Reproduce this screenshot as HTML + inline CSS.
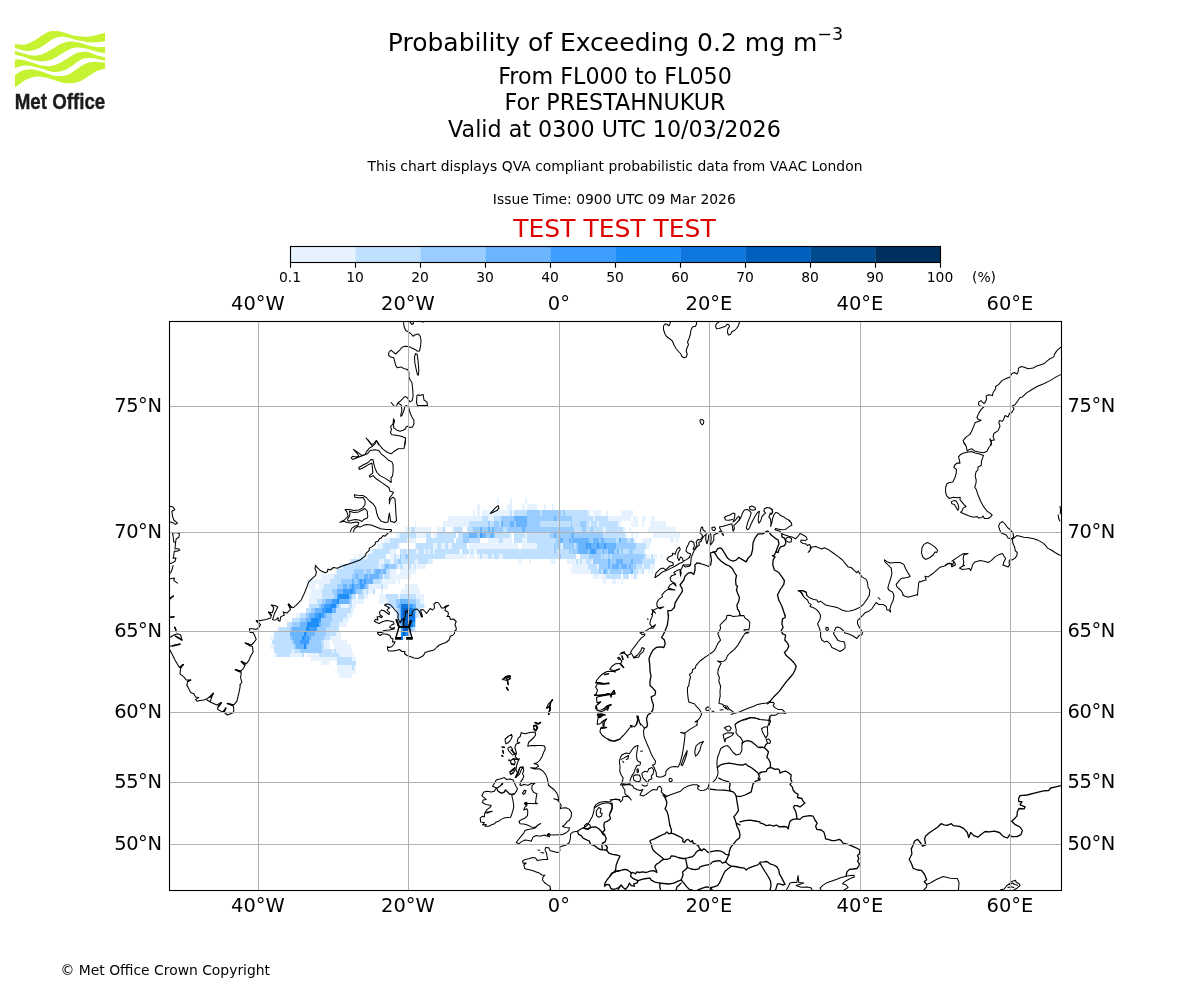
<!DOCTYPE html>
<html lang="en">
<head>
<meta charset="utf-8">
<title>Probability of Exceeding 0.2 mg m-3</title>
<style>
html,body{margin:0;padding:0;background:#fff;}
body{width:1200px;height:1000px;overflow:hidden;font-family:"DejaVu Sans","Liberation Sans",sans-serif;}
svg{display:block;}
text{font-family:"DejaVu Sans","Liberation Sans",sans-serif;fill:#000;}
.s10{font-size:13.89px;}
.s14{font-size:19.44px;}
.s16{font-size:22.22px;}
.s18{font-size:25px;}
.grid line{stroke:#b0b0b0;stroke-width:1;}
.coast path{fill:none;stroke:#000;stroke-width:1.05;stroke-linejoin:round;stroke-linecap:round;}
.coast path.b{stroke-width:1.3;}
.coast path.k{stroke-width:1.5;}
</style>
</head>
<body>
<svg width="1200" height="1000" viewBox="0 0 1200 1000">
<rect width="1200" height="1000" fill="#fff"/>
<g id="logo"><path d="M14.9,44.3C16.7,44.3 22.0,45.1 25.2,44.5C28.5,43.9 30.9,42.6 34.4,40.6C38.0,38.7 43.0,34.4 46.4,32.8C49.8,31.2 51.8,31.1 54.7,31.0C57.6,30.9 60.7,31.6 63.9,32.4C67.1,33.1 70.3,34.8 74.0,35.6C77.7,36.3 82.1,36.9 86.0,36.8C89.8,36.7 93.8,35.6 97.0,34.9C100.2,34.3 103.7,33.2 105.1,32.8L105.1,41.6C103.0,41.7 96.8,42.6 92.4,42.5C88.0,42.3 82.4,41.4 78.6,40.6C74.8,39.9 72.2,38.5 69.4,37.9C66.6,37.2 64.5,36.7 62.0,36.8C59.6,36.9 57.3,37.2 54.7,38.3C52.1,39.4 49.3,41.6 46.4,43.4C43.5,45.2 40.3,47.7 37.2,48.9C34.1,50.2 30.8,50.8 28.0,50.9C25.2,51.1 22.8,50.3 20.6,49.8C18.5,49.3 15.9,48.3 14.9,48.0ZM14.9,50.8C16.3,51.2 20.5,52.8 23.4,53.5C26.3,54.3 29.5,55.2 32.6,55.4C35.7,55.5 38.7,55.4 41.8,54.4C44.9,53.5 47.9,51.5 51.0,49.8C54.1,48.2 57.1,45.7 60.2,44.3C63.3,42.9 66.3,41.9 69.4,41.6C72.5,41.3 75.5,41.9 78.6,42.5C81.7,43.1 84.7,44.5 87.8,45.2C90.9,46.0 94.1,46.8 97.0,47.1C99.9,47.4 103.7,47.1 105.1,47.1L105.1,53.1C103.7,52.8 99.9,52.4 97.0,51.7C94.1,51.0 90.9,49.6 87.8,48.9C84.7,48.2 81.4,47.6 78.6,47.5C75.8,47.5 74.0,47.5 71.2,48.5C68.5,49.5 65.1,51.8 62.0,53.5C59.0,55.3 55.9,57.7 52.8,59.0C49.8,60.3 47.0,61.2 43.6,61.3C40.3,61.5 36.0,60.7 32.6,60.0C29.2,59.2 26.3,57.7 23.4,56.7C20.5,55.8 16.3,54.8 14.9,54.4ZM14.9,59.5C16.3,59.6 20.5,59.4 23.4,60.0C26.3,60.5 29.5,61.8 32.6,62.7C35.7,63.6 38.7,64.9 41.8,65.5C44.9,66.0 47.9,66.4 51.0,65.9C54.1,65.5 57.1,64.2 60.2,62.7C63.3,61.3 66.3,58.9 69.4,57.2C72.5,55.5 75.5,53.4 78.6,52.6C81.7,51.8 84.7,51.7 87.8,52.1C90.9,52.6 94.1,54.5 97.0,55.4C99.9,56.2 103.7,56.9 105.1,57.2L105.1,60.9C103.7,60.6 99.9,59.5 97.0,59.0C94.1,58.6 90.6,58.0 87.8,58.1C85.0,58.3 83.2,58.6 80.4,60.0C77.7,61.3 74.3,64.6 71.2,66.4C68.2,68.2 65.1,70.1 62.0,71.0C59.0,71.9 55.9,72.2 52.8,71.9C49.8,71.6 47.0,70.1 43.6,69.2C40.3,68.2 36.0,67.0 32.6,66.4C29.2,65.8 26.3,65.2 23.4,65.5C20.5,65.8 16.3,67.8 14.9,68.2ZM14.9,75.1C16.0,74.4 18.9,72.0 21.6,71.0C24.2,70.0 27.7,69.2 30.8,69.2C33.8,69.2 36.9,70.2 40.0,71.0C43.0,71.8 46.1,73.4 49.2,74.2C52.2,75.1 55.3,76.0 58.4,76.1C61.4,76.1 64.5,75.8 67.6,74.7C70.6,73.5 73.7,71.0 76.8,69.2C79.8,67.3 82.9,64.9 86.0,63.6C89.0,62.4 92.0,62.0 95.2,61.8C98.3,61.6 103.4,62.6 105.1,62.7L105.1,68.7C103.7,69.1 99.6,69.8 97.0,71.0C94.4,72.1 92.2,74.0 89.6,75.6C87.0,77.2 84.1,79.4 81.4,80.7C78.6,81.9 76.0,82.6 73.1,83.0C70.2,83.3 66.9,83.4 63.9,83.0C60.8,82.5 57.7,81.1 54.7,80.2C51.6,79.3 48.5,78.1 45.5,77.4C42.4,76.8 39.3,76.2 36.3,76.5C33.2,76.8 29.8,78.1 27.1,79.3C24.3,80.5 21.7,82.6 19.7,83.9C17.7,85.2 15.7,86.6 14.9,87.1Z" fill="#c5f331"/>
<text x="14.7" y="109.2" textLength="90.6" lengthAdjust="spacingAndGlyphs" style="font-family:'Liberation Sans',sans-serif;font-weight:bold;font-size:21.2px;fill:#1c1c1c;stroke:#1c1c1c;stroke-width:0.4px">Met Office</text></g>
<g id="titles" text-anchor="middle">
<text x="615.5" y="51" class="s18">Probability of Exceeding 0.2 mg m<tspan dy="-11" font-size="17.5px">−3</tspan></text>
<text x="615" y="84" class="s16">From FL000 to FL050</text>
<text x="615" y="110" class="s16">For PRESTAHNUKUR</text>
<text x="614.5" y="137" class="s16">Valid at 0300 UTC 10/03/2026</text>
<text x="615" y="171" class="s10">This chart displays QVA compliant probabilistic data from VAAC London</text>
<text x="614.3" y="204" class="s10">Issue Time: 0900 UTC 09 Mar 2026</text>
<text x="614.5" y="237" class="s18" style="fill:#df0000">TEST TEST TEST</text>
</g>
<g id="colorbar"><rect x="290.00" y="246.0" width="65.80" height="17.0" fill="#e6f3ff"/><rect x="355.50" y="246.0" width="65.30" height="17.0" fill="#bfe0ff"/><rect x="420.50" y="246.0" width="65.30" height="17.0" fill="#99ccff"/><rect x="485.50" y="246.0" width="65.30" height="17.0" fill="#6bb5ff"/><rect x="550.50" y="246.0" width="65.30" height="17.0" fill="#3d9eff"/><rect x="615.50" y="246.0" width="65.30" height="17.0" fill="#1e8ef8"/><rect x="680.50" y="246.0" width="65.30" height="17.0" fill="#0f78e0"/><rect x="745.50" y="246.0" width="65.30" height="17.0" fill="#0060bf"/><rect x="810.50" y="246.0" width="65.30" height="17.0" fill="#004a8f"/><rect x="875.50" y="246.0" width="65.50" height="17.0" fill="#00305e"/><rect x="290.5" y="246.5" width="650.00" height="16.0" fill="none" stroke="#000" stroke-width="1.11"/><line x1="290.50" y1="262.5" x2="290.50" y2="267.7" stroke="#000" stroke-width="1.11"/><text x="290.00" y="281.9" class="s10" text-anchor="middle">0.1</text><line x1="355.50" y1="262.5" x2="355.50" y2="267.7" stroke="#000" stroke-width="1.11"/><text x="355.00" y="281.9" class="s10" text-anchor="middle">10</text><line x1="420.50" y1="262.5" x2="420.50" y2="267.7" stroke="#000" stroke-width="1.11"/><text x="420.00" y="281.9" class="s10" text-anchor="middle">20</text><line x1="485.50" y1="262.5" x2="485.50" y2="267.7" stroke="#000" stroke-width="1.11"/><text x="485.00" y="281.9" class="s10" text-anchor="middle">30</text><line x1="550.50" y1="262.5" x2="550.50" y2="267.7" stroke="#000" stroke-width="1.11"/><text x="550.00" y="281.9" class="s10" text-anchor="middle">40</text><line x1="615.50" y1="262.5" x2="615.50" y2="267.7" stroke="#000" stroke-width="1.11"/><text x="615.00" y="281.9" class="s10" text-anchor="middle">50</text><line x1="680.50" y1="262.5" x2="680.50" y2="267.7" stroke="#000" stroke-width="1.11"/><text x="680.00" y="281.9" class="s10" text-anchor="middle">60</text><line x1="745.50" y1="262.5" x2="745.50" y2="267.7" stroke="#000" stroke-width="1.11"/><text x="745.00" y="281.9" class="s10" text-anchor="middle">70</text><line x1="810.50" y1="262.5" x2="810.50" y2="267.7" stroke="#000" stroke-width="1.11"/><text x="810.00" y="281.9" class="s10" text-anchor="middle">80</text><line x1="875.50" y1="262.5" x2="875.50" y2="267.7" stroke="#000" stroke-width="1.11"/><text x="875.00" y="281.9" class="s10" text-anchor="middle">90</text><line x1="940.50" y1="262.5" x2="940.50" y2="267.7" stroke="#000" stroke-width="1.11"/><text x="940.00" y="281.9" class="s10" text-anchor="middle">100</text><text x="984" y="281.9" class="s10" text-anchor="middle">(%)</text></g>
<defs><clipPath id="mapclip"><rect x="169.5" y="321.5" width="892.00" height="569.00"/></clipPath></defs>
<g id="map" clip-path="url(#mapclip)">
<g class="heat" shape-rendering="crispEdges"><path fill="#ffffff" d="M315,584h4v5h-4zM307,589h4v5h-4zM356,604h4v4h-4zM354,608h6v5h-6zM352,613h8v5h-8zM349,618h11v4h-11zM347,622h13v5h-13zM339,627h21v4h-21zM341,631h19v5h-19zM341,636h19v4h-19zM330,640h2v4h-2zM347,640h13v4h-13zM330,644h4v5h-4zM351,644h9v5h-9zM352,649h8v4h-8zM304,653h3v4h-3zM354,653h6v4h-6zM356,657h4v4h-4zM330,661h7v4h-7zM356,661h4v4h-4zM356,665h4v5h-4zM356,670h4v4h-4zM352,674h8v4h-8zM396,549h5v5h-5zM356,554h2v5h-2zM386,554h4v5h-4zM396,569h4v5h-4zM405,574h6v5h-6zM396,579h2v5h-2zM400,579h11v5h-11zM388,584h17v5h-17zM366,589h2v5h-2zM371,589h2v5h-2zM375,589h6v5h-6zM383,589h18v5h-18zM356,594h2v5h-2zM368,594h11v5h-11zM499,498h11v6h-11zM512,498h13v6h-13zM480,504h8v6h-8zM488,504h19v6h-19zM512,504h6v6h-6zM518,504h4v6h-4zM525,504h2v6h-2zM537,504h7v6h-7zM475,510h2v6h-2zM480,510h2v6h-2zM416,521h27v6h-27zM431,527h6v5h-6zM446,527h6v5h-6zM463,527h4v5h-4zM431,532h2v6h-2zM456,532h2v6h-2zM512,532h2v6h-2zM416,538h10v5h-10zM454,538h2v5h-2zM480,538h8v5h-8zM512,538h2v5h-2zM467,543h2v6h-2zM518,543h4v6h-4zM460,549h2v5h-2zM467,554h2v5h-2zM475,554h2v5h-2zM433,559h85v5h-85zM522,559h7v5h-7zM531,559h6v5h-6zM537,559h3v5h-3zM401,564h2v5h-2zM403,564h6v5h-6zM591,510h2v6h-2zM601,510h5v6h-5zM608,510h13v6h-13zM631,516h2v5h-2zM638,516h4v5h-4zM646,516h5v5h-5zM655,516h2v5h-2zM621,521h10v6h-10zM633,521h1v6h-1zM638,521h4v6h-4zM644,521h6v6h-6zM625,527h4v5h-4zM631,527h17v5h-17zM627,532h4v6h-4zM634,532h2v6h-2zM638,532h15v6h-15zM636,538h6v5h-6zM651,538h19v5h-19zM674,538h2v5h-2zM576,554h4v5h-4zM650,554h1v5h-1zM657,554h4v5h-4zM556,559h11v5h-11zM644,569h4v5h-4zM650,569h1v5h-1zM591,574h2v5h-2zM599,574h2v5h-2zM621,574h2v5h-2zM629,574h2v5h-2zM633,574h1v5h-1zM606,579h6v5h-6zM616,579h2v5h-2zM619,579h2v5h-2zM396,569h4v5h-4zM396,579h2v5h-2zM388,584h17v5h-17zM362,589h4v5h-4zM375,589h6v5h-6zM381,589h20v5h-20zM368,594h11v5h-11zM364,599h15v5h-15z"/>
<path fill="#e6f3ff" d="M321,574h9v5h-9zM307,579h14v5h-14zM321,579h9v5h-9zM309,584h6v5h-6zM319,584h5v5h-5zM306,589h1v5h-1zM311,589h11v5h-11zM309,594h13v5h-13zM309,599h8v5h-8zM352,599h8v5h-8zM341,604h8v4h-8zM352,604h4v4h-4zM351,608h3v5h-3zM296,613h4v5h-4zM347,613h5v5h-5zM343,618h6v4h-6zM339,622h8v5h-8zM277,627h2v4h-2zM336,631h5v5h-5zM270,636h4v4h-4zM330,636h11v4h-11zM324,640h6v4h-6zM332,640h15v4h-15zM270,644h4v5h-4zM324,644h6v5h-6zM334,644h17v5h-17zM292,649h2v4h-2zM332,649h2v4h-2zM336,649h16v4h-16zM274,653h3v4h-3zM290,653h12v4h-12zM307,653h12v4h-12zM339,653h15v4h-15zM311,657h26v4h-26zM352,657h4v4h-4zM321,661h9v4h-9zM337,665h15v5h-15zM354,665h2v5h-2zM337,670h19v4h-19zM339,674h13v4h-13zM405,527h6v5h-6zM396,532h4v6h-4zM384,538h6v5h-6zM403,538h6v5h-6zM377,543h6v6h-6zM398,543h2v6h-2zM369,549h4v5h-4zM390,549h6v5h-6zM401,549h2v5h-2zM405,549h4v5h-4zM354,554h2v5h-2zM358,554h10v5h-10zM390,554h4v5h-4zM396,554h5v5h-5zM349,559h2v5h-2zM379,559h5v5h-5zM390,559h4v5h-4zM339,564h4v5h-4zM379,564h2v5h-2zM398,564h2v5h-2zM400,564h1v5h-1zM403,564h8v5h-8zM336,569h1v5h-1zM390,569h6v5h-6zM400,569h11v5h-11zM330,574h4v5h-4zM383,574h5v5h-5zM390,574h15v5h-15zM381,579h15v5h-15zM398,579h2v5h-2zM369,584h12v5h-12zM383,584h5v5h-5zM405,584h13v5h-13zM364,589h2v5h-2zM368,589h3v5h-3zM373,589h2v5h-2zM381,589h2v5h-2zM401,589h19v5h-19zM364,594h4v5h-4zM379,594h7v5h-7zM398,594h2v5h-2zM416,594h8v5h-8zM497,498h2v6h-2zM510,498h2v6h-2zM525,498h2v6h-2zM477,504h3v6h-3zM507,504h5v6h-5zM522,504h3v6h-3zM527,504h10v6h-10zM544,504h2v6h-2zM473,510h2v6h-2zM477,510h3v6h-3zM482,510h28v6h-28zM512,510h2v6h-2zM448,516h34v5h-34zM488,516h6v5h-6zM415,521h1v6h-1zM443,521h26v6h-26zM407,527h4v5h-4zM415,527h16v5h-16zM437,527h6v5h-6zM445,527h1v5h-1zM452,527h2v5h-2zM462,527h1v5h-1zM416,532h10v6h-10zM433,532h4v6h-4zM510,532h2v6h-2zM525,532h2v6h-2zM407,538h9v5h-9zM488,538h11v5h-11zM503,538h9v5h-9zM522,538h5v5h-5zM415,543h1v6h-1zM433,543h4v6h-4zM441,543h4v6h-4zM448,543h4v6h-4zM469,543h49v6h-49zM522,543h15v6h-15zM403,549h2v5h-2zM407,549h2v5h-2zM416,549h2v5h-2zM424,549h2v5h-2zM428,549h2v5h-2zM433,549h2v5h-2zM469,549h2v5h-2zM473,549h4v5h-4zM445,554h22v5h-22zM469,554h6v5h-6zM477,554h3v5h-3zM482,554h6v5h-6zM492,554h2v5h-2zM499,554h4v5h-4zM415,559h3v5h-3zM428,559h2v5h-2zM431,559h2v5h-2zM518,559h4v5h-4zM529,559h2v5h-2zM411,564h4v5h-4zM416,564h10v5h-10zM400,569h16v5h-16zM400,574h7v5h-7zM552,504h2v6h-2zM588,510h3v6h-3zM593,510h8v6h-8zM606,510h2v6h-2zM621,510h12v6h-12zM593,516h2v5h-2zM608,516h23v5h-23zM633,516h5v5h-5zM642,516h4v5h-4zM651,516h4v5h-4zM589,521h2v6h-2zM597,521h2v6h-2zM618,521h3v6h-3zM631,521h2v6h-2zM634,521h4v6h-4zM642,521h2v6h-2zM650,521h16v6h-16zM603,527h3v5h-3zM623,527h2v5h-2zM629,527h2v5h-2zM648,527h28v5h-28zM625,532h2v6h-2zM631,532h3v6h-3zM636,532h2v6h-2zM653,532h27v6h-27zM634,538h2v5h-2zM642,538h8v5h-8zM670,538h4v5h-4zM676,538h2v5h-2zM561,543h2v6h-2zM646,543h4v6h-4zM644,549h2v5h-2zM646,554h4v5h-4zM653,554h4v5h-4zM661,554h2v5h-2zM550,559h6v5h-6zM567,559h7v5h-7zM574,559h2v5h-2zM578,559h2v5h-2zM582,559h2v5h-2zM584,559h2v5h-2zM591,559h2v5h-2zM572,564h16v5h-16zM597,564h2v5h-2zM642,564h2v5h-2zM650,564h3v5h-3zM653,564h2v5h-2zM571,569h20v5h-20zM638,569h4v5h-4zM648,569h2v5h-2zM651,569h2v5h-2zM593,574h6v5h-6zM601,574h5v5h-5zM631,574h2v5h-2zM636,574h2v5h-2zM603,579h3v5h-3zM612,579h4v5h-4zM618,579h1v5h-1zM621,579h2v5h-2zM390,569h6v5h-6zM400,569h16v5h-16zM383,574h1v5h-1zM390,574h21v5h-21zM381,579h15v5h-15zM398,579h2v5h-2zM369,584h12v5h-12zM383,584h5v5h-5zM405,584h13v5h-13zM368,589h5v5h-5zM401,589h19v5h-19zM364,594h4v5h-4zM379,594h7v5h-7zM398,594h2v5h-2zM416,594h8v5h-8zM360,599h4v5h-4zM379,599h9v5h-9zM420,599h4v5h-4zM424,604h2v4h-2zM394,608h2v5h-2zM420,608h2v5h-2zM396,613h2v5h-2zM418,613h2v5h-2zM400,627h1v4h-1zM415,627h1v4h-1zM400,631h1v5h-1zM403,636h2v4h-2z"/>
<path fill="#bfe0ff" d="M324,584h6v5h-6zM322,589h8v5h-8zM322,594h8v5h-8zM317,599h5v5h-5zM351,599h1v5h-1zM309,604h10v4h-10zM339,604h2v4h-2zM349,604h3v4h-3zM306,608h5v5h-5zM336,608h15v5h-15zM300,613h6v5h-6zM332,613h15v5h-15zM292,618h8v4h-8zM332,618h11v4h-11zM287,622h5v5h-5zM330,622h9v5h-9zM279,627h11v4h-11zM326,627h13v4h-13zM274,631h16v5h-16zM326,631h10v5h-10zM274,636h16v4h-16zM324,636h6v4h-6zM272,640h20v4h-20zM321,640h3v4h-3zM274,644h20v5h-20zM322,644h2v5h-2zM274,649h18v4h-18zM294,649h6v4h-6zM322,649h10v4h-10zM334,649h2v4h-2zM277,653h13v4h-13zM302,653h2v4h-2zM319,653h20v4h-20zM337,657h15v4h-15zM337,661h19v4h-19zM352,665h2v5h-2zM400,532h1v6h-1zM401,532h8v6h-8zM390,538h13v5h-13zM383,543h15v6h-15zM373,549h17v5h-17zM403,549h2v5h-2zM409,549h2v5h-2zM368,554h16v5h-16zM384,554h2v5h-2zM394,554h2v5h-2zM401,554h4v5h-4zM409,554h2v5h-2zM351,559h28v5h-28zM384,559h6v5h-6zM394,559h4v5h-4zM401,559h10v5h-10zM343,564h26v5h-26zM369,564h10v5h-10zM381,564h3v5h-3zM396,564h2v5h-2zM401,564h2v5h-2zM337,569h17v5h-17zM364,569h2v5h-2zM371,569h2v5h-2zM386,569h4v5h-4zM334,574h17v5h-17zM351,574h1v5h-1zM388,574h2v5h-2zM330,579h11v5h-11zM373,579h8v5h-8zM330,584h7v5h-7zM368,584h1v5h-1zM381,584h2v5h-2zM330,589h2v5h-2zM362,589h2v5h-2zM330,594h4v5h-4zM352,594h4v5h-4zM358,594h6v5h-6zM386,594h12v5h-12zM400,594h16v5h-16zM510,510h2v6h-2zM514,510h13v6h-13zM540,510h2v6h-2zM482,516h6v5h-6zM494,516h5v5h-5zM499,516h2v5h-2zM469,521h19v6h-19zM490,521h4v6h-4zM499,521h2v6h-2zM540,521h10v6h-10zM411,527h4v5h-4zM443,527h2v5h-2zM454,527h8v5h-8zM467,527h6v5h-6zM503,527h4v5h-4zM400,532h16v6h-16zM426,532h5v6h-5zM437,532h19v6h-19zM458,532h5v6h-5zM495,532h15v6h-15zM514,532h11v6h-11zM527,532h23v6h-23zM400,538h7v5h-7zM426,538h28v5h-28zM456,538h7v5h-7zM469,538h11v5h-11zM499,538h4v5h-4zM514,538h8v5h-8zM527,538h23v5h-23zM416,543h17v6h-17zM437,543h4v6h-4zM445,543h3v6h-3zM452,543h15v6h-15zM537,543h13v6h-13zM400,549h3v5h-3zM405,549h2v5h-2zM409,549h7v5h-7zM418,549h6v5h-6zM426,549h2v5h-2zM430,549h1v5h-1zM431,549h2v5h-2zM435,549h25v5h-25zM462,549h7v5h-7zM471,549h2v5h-2zM477,549h3v5h-3zM480,549h70v5h-70zM401,554h4v5h-4zM407,554h38v5h-38zM480,554h2v5h-2zM488,554h4v5h-4zM494,554h1v5h-1zM495,554h4v5h-4zM503,554h15v5h-15zM518,554h32v5h-32zM401,559h14v5h-14zM418,559h10v5h-10zM430,559h1v5h-1zM400,564h1v5h-1zM409,564h2v5h-2zM415,564h1v5h-1zM561,510h2v6h-2zM565,510h23v6h-23zM572,516h21v5h-21zM595,516h13v5h-13zM550,521h21v6h-21zM572,521h2v6h-2zM574,521h6v6h-6zM586,521h3v6h-3zM591,521h6v6h-6zM599,521h19v6h-19zM574,527h8v5h-8zM586,527h5v5h-5zM593,527h10v5h-10zM606,527h17v5h-17zM603,532h22v6h-22zM550,538h6v5h-6zM616,538h3v5h-3zM627,538h4v5h-4zM633,538h1v5h-1zM650,538h1v5h-1zM550,543h4v6h-4zM556,543h1v6h-1zM559,543h2v6h-2zM574,543h2v6h-2zM636,543h10v6h-10zM550,549h4v5h-4zM556,549h13v5h-13zM571,549h1v5h-1zM619,549h2v5h-2zM623,549h6v5h-6zM633,549h11v5h-11zM550,554h9v5h-9zM561,554h15v5h-15zM580,554h9v5h-9zM601,554h2v5h-2zM604,554h4v5h-4zM610,554h2v5h-2zM644,554h2v5h-2zM651,554h2v5h-2zM576,559h2v5h-2zM580,559h2v5h-2zM586,559h5v5h-5zM642,559h13v5h-13zM588,564h9v5h-9zM636,564h6v5h-6zM644,564h6v5h-6zM591,569h8v5h-8zM601,569h2v5h-2zM608,569h2v5h-2zM621,569h2v5h-2zM633,569h5v5h-5zM642,569h2v5h-2zM606,574h15v5h-15zM623,574h6v5h-6zM634,574h2v5h-2zM364,569h2v5h-2zM371,569h4v5h-4zM381,569h2v5h-2zM386,569h4v5h-4zM384,574h6v5h-6zM373,579h8v5h-8zM368,584h1v5h-1zM381,584h2v5h-2zM360,589h2v5h-2zM366,589h2v5h-2zM373,589h2v5h-2zM360,594h4v5h-4zM386,594h12v5h-12zM400,594h16v5h-16zM388,599h8v5h-8zM416,599h4v5h-4zM388,604h8v4h-8zM416,604h8v4h-8zM396,608h2v5h-2zM416,608h4v5h-4zM416,613h2v5h-2zM398,618h2v4h-2zM398,622h2v5h-2zM415,622h1v5h-1zM413,627h2v4h-2zM409,631h2v5h-2z"/>
<path fill="#99ccff" d="M322,599h4v5h-4zM349,599h2v5h-2zM319,604h2v4h-2zM337,604h2v4h-2zM311,608h4v5h-4zM306,613h3v5h-3zM326,613h6v5h-6zM300,618h6v4h-6zM321,618h11v4h-11zM292,622h8v5h-8zM321,622h9v5h-9zM290,627h2v4h-2zM317,627h9v4h-9zM315,631h11v5h-11zM290,636h2v4h-2zM311,636h13v4h-13zM292,640h2v4h-2zM309,640h12v4h-12zM294,644h2v5h-2zM307,644h15v5h-15zM300,649h22v4h-22zM405,554h4v5h-4zM398,559h3v5h-3zM384,564h2v5h-2zM388,564h8v5h-8zM354,569h10v5h-10zM366,569h5v5h-5zM373,569h2v5h-2zM381,569h2v5h-2zM352,574h4v5h-4zM358,574h6v5h-6zM368,574h1v5h-1zM379,574h4v5h-4zM341,579h11v5h-11zM354,579h4v5h-4zM360,579h2v5h-2zM371,579h2v5h-2zM337,584h6v5h-6zM347,584h2v5h-2zM366,584h2v5h-2zM332,589h5v5h-5zM356,589h6v5h-6zM334,594h3v5h-3zM351,594h1v5h-1zM527,510h13v6h-13zM542,510h8v6h-8zM501,516h13v5h-13zM527,516h23v5h-23zM488,521h2v6h-2zM494,521h5v6h-5zM503,521h7v6h-7zM514,521h2v6h-2zM527,521h13v6h-13zM473,527h7v5h-7zM482,527h6v5h-6zM490,527h2v5h-2zM494,527h9v5h-9zM507,527h15v5h-15zM525,527h12v5h-12zM537,527h13v5h-13zM463,532h6v6h-6zM477,532h3v6h-3zM486,532h4v6h-4zM494,532h1v6h-1zM463,538h6v5h-6zM400,554h1v5h-1zM405,554h2v5h-2zM400,559h1v5h-1zM550,510h11v6h-11zM563,510h2v6h-2zM550,516h4v5h-4zM556,516h16v5h-16zM571,521h1v6h-1zM580,521h6v6h-6zM550,527h24v5h-24zM582,527h4v5h-4zM591,527h2v5h-2zM550,532h4v6h-4zM556,532h15v6h-15zM574,532h29v6h-29zM556,538h3v5h-3zM563,538h6v5h-6zM571,538h1v5h-1zM589,538h4v5h-4zM599,538h2v5h-2zM604,538h4v5h-4zM608,538h8v5h-8zM621,538h2v5h-2zM623,538h4v5h-4zM631,538h2v5h-2zM554,543h2v6h-2zM557,543h2v6h-2zM563,543h11v6h-11zM576,543h2v6h-2zM616,543h20v6h-20zM554,549h2v5h-2zM569,549h2v5h-2zM572,549h6v5h-6zM588,549h1v5h-1zM597,549h6v5h-6zM604,549h4v5h-4zM614,549h4v5h-4zM621,549h2v5h-2zM629,549h4v5h-4zM559,554h2v5h-2zM589,554h12v5h-12zM603,554h1v5h-1zM608,554h2v5h-2zM612,554h32v5h-32zM593,559h15v5h-15zM610,559h6v5h-6zM623,559h8v5h-8zM633,559h9v5h-9zM599,564h9v5h-9zM610,564h2v5h-2zM619,564h2v5h-2zM627,564h2v5h-2zM631,564h5v5h-5zM599,569h2v5h-2zM603,569h1v5h-1zM606,569h2v5h-2zM610,569h11v5h-11zM623,569h8v5h-8zM360,569h4v5h-4zM366,569h5v5h-5zM360,574h4v5h-4zM368,574h1v5h-1zM379,574h4v5h-4zM366,584h2v5h-2zM396,599h4v5h-4zM409,599h7v5h-7zM396,604h2v4h-2zM398,608h2v5h-2zM398,613h2v5h-2zM415,613h1v5h-1zM400,618h1v4h-1zM415,618h1v4h-1zM400,622h1v5h-1zM411,627h2v4h-2z"/>
<path fill="#6bb5ff" d="M326,599h6v5h-6zM339,599h10v5h-10zM321,604h3v4h-3zM336,604h1v4h-1zM315,608h7v5h-7zM332,608h4v5h-4zM309,613h6v5h-6zM324,613h2v5h-2zM306,618h5v4h-5zM300,622h7v5h-7zM319,622h2v5h-2zM292,627h14v4h-14zM290,631h14v5h-14zM307,631h8v5h-8zM292,636h10v4h-10zM306,636h1v4h-1zM309,636h2v4h-2zM294,640h6v4h-6zM296,644h8v5h-8zM306,644h1v5h-1zM386,564h2v5h-2zM375,569h6v5h-6zM383,569h3v5h-3zM356,574h2v5h-2zM364,574h4v5h-4zM369,574h10v5h-10zM352,579h2v5h-2zM358,579h2v5h-2zM362,579h2v5h-2zM366,579h5v5h-5zM343,584h4v5h-4zM349,584h3v5h-3zM354,584h8v5h-8zM364,584h2v5h-2zM337,589h6v5h-6zM354,589h2v5h-2zM349,594h2v5h-2zM514,516h13v5h-13zM501,521h2v6h-2zM510,521h4v6h-4zM516,521h11v6h-11zM480,527h2v5h-2zM488,527h2v5h-2zM492,527h2v5h-2zM522,527h3v5h-3zM469,532h4v6h-4zM473,532h4v6h-4zM482,532h4v6h-4zM490,532h4v6h-4zM554,516h2v5h-2zM554,532h2v6h-2zM571,532h3v6h-3zM559,538h4v5h-4zM569,538h2v5h-2zM572,538h17v5h-17zM593,538h6v5h-6zM601,538h3v5h-3zM619,538h2v5h-2zM578,543h8v6h-8zM588,543h1v6h-1zM591,543h6v6h-6zM599,543h5v6h-5zM606,543h10v6h-10zM578,549h10v5h-10zM589,549h2v5h-2zM595,549h2v5h-2zM603,549h1v5h-1zM608,549h6v5h-6zM618,549h1v5h-1zM608,559h2v5h-2zM616,559h7v5h-7zM631,559h2v5h-2zM608,564h2v5h-2zM612,564h7v5h-7zM621,564h6v5h-6zM629,564h2v5h-2zM604,569h2v5h-2zM631,569h2v5h-2zM375,569h6v5h-6zM383,569h3v5h-3zM364,574h4v5h-4zM369,574h10v5h-10zM362,579h11v5h-11zM364,584h2v5h-2zM400,599h9v5h-9zM398,604h3v4h-3zM413,604h3v4h-3zM400,608h1v5h-1zM415,608h1v5h-1zM400,613h1v5h-1z"/>
<path fill="#3d9eff" d="M332,599h5v5h-5zM324,604h6v4h-6zM322,608h4v5h-4zM315,613h4v5h-4zM321,613h3v5h-3zM319,618h2v4h-2zM309,627h8v4h-8zM306,631h1v5h-1zM304,636h2v4h-2zM307,636h2v4h-2zM300,640h6v4h-6zM306,640h3v4h-3zM364,579h2v5h-2zM352,584h2v5h-2zM362,584h2v5h-2zM343,589h8v5h-8zM352,589h2v5h-2zM337,594h2v5h-2zM480,532h2v6h-2zM586,543h2v6h-2zM589,543h2v6h-2zM597,543h2v6h-2zM604,543h2v6h-2zM591,549h4v5h-4zM360,579h2v5h-2zM360,584h4v5h-4zM409,604h4v4h-4zM413,608h2v5h-2zM401,622h2v5h-2zM413,622h2v5h-2zM401,627h2v4h-2z"/>
<path fill="#1e8ef8" d="M337,599h2v5h-2zM330,604h6v4h-6zM326,608h6v5h-6zM319,613h2v5h-2zM311,618h8v4h-8zM307,622h12v5h-12zM306,627h3v4h-3zM304,631h2v5h-2zM302,636h2v4h-2zM304,644h2v5h-2zM351,589h1v5h-1zM339,594h10v5h-10zM409,627h2v4h-2zM401,631h2v5h-2zM405,631h4v5h-4z"/>
<path fill="#0f78e0" d="M401,604h8v4h-8zM401,608h2v5h-2zM409,608h4v5h-4zM401,613h2v5h-2zM409,613h6v5h-6zM401,618h2v4h-2zM409,618h6v4h-6zM409,622h4v5h-4zM401,636h2v4h-2z"/>
<path fill="#0060bf" d="M403,608h6v5h-6zM403,613h6v5h-6zM403,618h6v4h-6zM403,622h6v5h-6zM403,627h6v4h-6zM403,631h2v5h-2z"/></g>
<g class="coast"><path d="M403.5,321.5 404.0,326.2 405.6,330.2 408.1,331.9 410.6,333.5 413.1,336.2 415.2,334.8 418.1,334.0 420.0,335.6 421.0,340.0 420.6,346.2 419.4,351.0 417.5,351.2 415.0,349.4 411.9,348.1 408.8,346.5 405.0,346.2 401.9,347.2 400.0,349.8 395.6,354.0 393.1,351.9 391.0,350.2 388.8,352.5 388.5,355.2 390.6,357.1 393.8,357.8 394.6,361.2 395.6,365.0 397.2,367.8 401.0,366.9 403.8,368.5 407.5,369.6 409.0,372.5 408.8,376.9 410.2,380.0 411.9,382.5 412.8,390.0 413.1,396.2 412.2,400.6 410.2,401.9 408.8,400.0 406.9,397.2 404.8,396.5 402.5,398.8 400.6,401.0 398.1,402.5 396.2,406.2 394.4,406.5 391.2,402.5"/>
<path d="M398.1,403.1 401.2,405.0 401.9,410.0 400.6,416.2 401.9,415.6 404.0,410.0 405.0,406.2 406.5,405.6 408.8,407.5 410.0,412.5 411.9,416.9 413.8,420.0 414.0,423.8 412.5,426.9 409.8,427.5 407.5,426.2 406.0,426.9 405.6,428.8 403.1,430.2 400.0,431.2 396.9,430.2 393.8,427.8 393.5,424.4 394.6,421.2 393.5,418.8 393.1,423.8 390.6,426.5 391.5,429.4 390.4,432.5 391.9,434.8 396.2,435.2 401.2,436.2 405.6,438.1 405.0,442.5 404.4,445.0"/>
<path d="M415.6,353.5 417.2,354.4 418.1,361.2 418.8,370.0 418.5,375.0 417.5,375.0 416.2,369.4 414.8,362.5 414.5,356.9Z"/>
<path d="M416.9,395.6 418.8,394.8 420.0,395.6 423.1,394.4 424.0,400.0 426.9,401.9 427.5,405.6 417.5,405.6 416.5,402.5Z"/>
<path d="M410.0,321.9 411.9,324.4 413.5,323.8 413.1,321.5"/>
<path d="M421.9,321.5 423.1,322.2"/>
<path d="M366.2,438.1 368.8,441.2 371.2,444.4 373.8,443.8 376.2,440.6 378.8,445.0"/>
<path d="M405.6,440.0 404.8,445.6 403.8,448.5 398.1,448.8 394.4,451.2 391.2,453.8 387.5,452.5 383.1,449.4 379.4,445.0 376.5,440.6 375.0,443.8 372.5,446.2 369.4,448.1 366.9,451.2 365.0,454.4 361.9,455.6 358.8,453.1 353.5,449.4 357.5,453.8 358.8,456.2 355.6,456.9 352.5,456.2 351.2,458.1 352.8,459.4 357.5,457.5 363.1,455.6 367.5,453.8 370.0,450.6 375.0,449.8 378.8,450.6 381.2,453.8 385.0,456.9 388.1,460.0 391.9,461.9 393.1,465.0 393.1,471.2 392.5,476.2 391.0,477.5 391.2,482.5 388.8,480.6 385.0,478.1 380.0,475.6 376.9,472.5 375.0,468.1 373.8,463.8 373.1,459.8 371.2,459.4 368.1,462.5 363.1,465.0 358.8,467.5 359.4,469.4 363.8,467.5 368.8,464.4 371.9,463.1 372.5,468.1 372.8,473.1 369.4,475.6 370.0,477.2 373.1,475.6 376.2,478.8 382.5,483.1 388.8,487.5 390.0,491.2 393.5,492.2 391.9,495.0 389.4,498.1 389.4,503.8 390.2,499.4 393.1,497.2 395.0,498.8 395.6,507.5 396.0,515.0 396.5,520.6 394.4,522.5 390.6,521.2 389.4,513.1 388.5,517.5 388.1,521.9 385.0,522.5 381.2,521.2 378.5,518.1 376.9,513.8 375.6,507.5 373.1,503.8 369.4,501.0 366.2,497.5 363.1,495.6 357.5,495.2 354.4,494.8 354.8,497.2 358.8,497.8 363.1,497.5 365.2,501.2 364.8,505.0 362.5,508.1 358.8,510.0 353.8,510.6 349.4,509.4 345.0,509.4 346.9,511.9 348.1,516.2 344.4,520.0 340.0,522.2 343.8,521.2 346.9,522.5 351.2,523.1 356.2,521.9 358.8,522.5 358.1,525.0 355.0,526.2 351.9,528.1 350.2,531.9"/>
<path d="M353.5,531.9 354.4,528.8 357.5,526.5 360.6,526.9 363.1,525.6 366.2,524.4 371.2,525.0 376.2,526.9 380.6,528.8 386.2,529.4 391.2,529.4 391.5,531.0 388.1,533.1 385.0,536.2 383.1,535.6 381.2,538.1 379.4,538.8 378.1,541.2 375.6,541.9 375.0,544.4 371.9,546.9 369.4,548.1 369.0,550.6 366.2,553.1 365.0,556.2 360.0,560.0 352.5,562.8 345.6,565.0"/>
<path d="M349.4,511.2 353.8,512.5 358.8,511.9 362.5,510.0 364.8,508.5 367.2,511.2 367.8,516.2 367.2,518.1 363.8,519.4 361.9,521.5 358.8,520.0 355.0,519.4 350.6,520.6 348.1,521.2 347.5,519.4 349.4,516.2 350.0,513.8Z"/>
<path d="M372.5,446.2 370.0,442.5 368.1,440.0"/>
<path d="M170.0,506.2 173.1,506.9 174.8,509.8 171.9,511.2 172.5,516.2 173.8,520.0 177.5,523.1 175.6,524.4 172.5,522.5 170.0,521.9"/>
<path d="M172.5,533.1 176.9,532.5 179.4,533.8 178.8,537.5 176.2,538.8 175.6,542.5 173.8,541.9 173.1,536.2Z"/>
<path d="M175.6,542.5 175.0,548.8 178.8,548.8 179.8,550.0 176.9,551.2 174.4,551.0 173.8,555.0 173.1,558.1 176.0,558.1 175.0,561.2 171.9,563.1 170.0,563.5"/>
<path d="M173.1,565.6 171.9,570.0 170.6,573.1"/>
<path d="M170.6,578.8 174.4,578.1 173.8,580.6 177.5,583.1"/>
<path d="M170.0,598.8 173.1,596.2"/>
<path d="M170.0,617.5 173.8,616.9"/>
<path d="M175.0,627.5 176.2,631.9"/>
<path d="M170.0,637.5 173.8,635.0 177.5,633.8 180.6,635.0 181.9,640.0"/>
<path d="M170.0,646.2 175.0,645.0 180.0,644.4"/>
<path d="M170.0,650.0 171.9,653.8 175.0,660.0 179.4,667.5 183.1,664.4 180.6,668.8 180.0,673.8 183.8,676.9 186.2,680.0 190.0,680.0 187.5,681.9 186.9,685.0"/>
<path d="M315.6,565.2 315.0,568.8 316.5,571.9 315.6,575.6 312.5,578.1 308.8,581.9 306.9,586.9 304.4,593.1 301.2,600.0 297.5,603.8 293.8,607.5 290.6,606.9 288.1,604.4 290.6,609.4 286.9,613.1 283.1,611.9 284.4,615.0 280.6,616.9 280.0,621.2 278.1,620.6 278.1,617.5 275.6,620.0 272.5,619.8 274.4,613.8 277.8,606.9 275.0,605.6 271.2,605.0 273.8,607.5 272.5,612.5 268.8,612.5 271.2,615.6 270.6,618.1 266.2,619.4 260.6,620.6 256.2,620.6 257.5,622.5 260.6,624.4 258.8,627.5 256.2,629.4 252.5,628.8 249.4,628.8 250.0,632.5 253.1,632.5 255.0,636.2 256.2,639.4 253.8,642.5 251.2,645.0 245.6,643.1 250.0,646.0 252.5,646.2 253.1,651.9 250.6,656.2 248.8,660.6 246.2,663.8 241.2,661.2 245.0,665.6 243.1,668.8 240.6,671.2 235.6,669.8 238.1,671.2 241.2,672.5 240.6,678.1 241.9,681.9 240.0,685.0"/>
<path d="M186.9,685.0 188.8,688.8 190.6,692.5 193.8,693.8 195.6,696.9 198.8,697.5 195.6,699.4 196.9,701.2 200.0,700.6 203.8,700.0 206.9,698.8 213.1,693.8 211.2,698.8 210.0,701.9 206.9,700.0 211.2,702.5 216.9,705.0 221.2,702.5 218.1,706.9 217.5,709.4 221.2,711.2 223.8,711.9 225.6,708.1 224.4,712.5 227.5,715.0 232.5,713.1 233.8,711.2 233.5,706.2 228.1,703.8 233.8,704.8 236.9,701.2 238.1,696.2 239.4,690.6 240.2,686.2 240.0,685.0"/>
<path d="M315.4,565.4 317.5,567.9 320.8,570.8 325.0,572.7 327.5,571.7 327.9,569.2 330.4,570.0 333.3,567.5 337.5,568.2 341.7,566.2 345.6,565.0"/>
<path d="M384.5,605.0 387.0,604.0 390.0,604.5 392.0,606.5 394.5,609.5 397.0,612.0 398.2,614.5 397.8,617.5 400.0,623.0 401.5,619.5 403.5,618.5 404.5,620.0 405.5,615.0 405.5,611.5 407.0,610.5 408.0,613.0 409.5,616.0 412.0,615.0 412.5,612.0 414.5,609.5 417.0,609.0 419.0,611.0 420.5,614.0 421.5,617.0 422.5,616.5 421.0,612.0 420.5,610.0 423.0,609.5 425.0,611.5 426.5,613.5 429.0,610.0 430.0,608.5 432.5,610.0 434.5,608.0 434.0,604.0 436.0,602.5 438.0,602.5 440.0,605.0 441.5,608.0 443.5,608.0 446.0,606.0 448.8,605.2 445.5,607.5 445.0,610.5 448.0,612.0 448.5,614.5 447.0,616.5 449.5,616.5 450.5,619.5 453.5,619.0 456.2,621.5 455.0,624.5 456.2,628.0 456.2,630.0 454.5,631.0 454.5,633.5 452.5,635.5 450.5,636.0 449.0,640.0 446.0,642.5 443.0,643.5 439.5,645.0 437.0,647.0 434.0,650.0 430.0,651.0 425.0,652.5 423.5,655.5 421.0,657.0 418.0,658.5 414.0,658.0 410.0,656.5 407.0,655.5 404.5,653.5 405.0,651.5 402.0,651.5 399.5,649.5 398.0,650.0 393.0,651.0 388.5,651.0 387.5,649.0 387.5,646.8 389.5,647.5 392.0,646.5 394.0,644.0 395.0,641.8 392.5,642.0 393.0,639.0 391.0,638.0 390.0,635.5 386.5,634.0 382.5,634.0 380.0,635.5 378.0,634.0 377.5,632.5 381.5,632.5 385.0,631.2 383.5,630.5 389.0,630.0 394.0,629.0 394.5,627.5 392.0,628.5 389.5,627.0 391.5,625.0 394.0,624.0 393.5,622.0 390.0,621.0 386.5,620.5 383.0,621.5 379.0,623.5 376.5,622.5 374.3,621.0 375.5,619.5 378.0,620.0 377.0,617.0 379.5,616.5 381.5,617.8 382.5,616.5 380.0,615.0 379.5,612.0 381.5,610.0 383.5,610.5 386.5,612.5 389.0,614.5 389.5,612.5 387.0,610.0 388.5,608.5 389.5,608.0 387.0,606.5Z"/>
<path d="M490.2,513.5 495.0,508.1 498.1,505.6 499.0,508.1 496.9,510.6 493.1,512.2Z"/>
<path d="M670.5,321.8 669.5,325.0 668.5,325.8 667.2,324.2 665.0,324.0 663.5,326.0 663.5,329.5 664.8,333.5 666.5,336.5 670.0,339.0 672.5,341.2 674.0,345.0 676.0,348.5 678.5,351.5 680.5,353.5 682.0,356.5 684.0,357.8 686.2,357.0 687.2,354.5 686.2,350.5 687.0,348.0 688.5,344.5 687.5,342.2 689.0,338.5 690.2,335.0 691.0,330.0 692.5,327.0 695.5,326.2 696.5,324.0 696.5,321.8"/>
<path d="M719.0,321.8 716.5,323.8 715.5,326.0 716.5,328.8 719.0,328.5 722.5,327.2 725.5,326.2 727.0,324.2 729.0,324.8 729.5,326.5 727.8,329.0 727.5,332.5 728.5,335.0 730.5,334.5 732.0,331.5 734.5,330.5 736.5,328.5 738.5,325.5 739.5,321.8"/>
<path d="M700.0,420.0 702.5,419.5 703.8,421.0 703.5,423.5 702.2,424.8 701.0,423.5 700.0,421.5Z"/>
<path class="b" d="M668.1,615.0 667.8,610.6 671.2,610.6 674.4,607.5 675.0,603.1 677.5,598.8 680.0,595.0 682.5,591.2 681.9,588.1 680.0,585.0 681.9,582.5 683.8,580.0 685.0,576.2 688.1,573.1 691.2,572.5 693.8,574.4 695.0,570.0 695.0,565.0 696.9,562.8 700.0,563.5 705.0,565.0 708.8,566.5 710.6,565.0 711.5,560.0 710.6,555.0 710.2,553.1 713.1,552.2"/>
<path class="b" d="M713.1,552.2 716.2,551.5 717.5,548.8 720.0,547.8 721.9,548.8 725.0,553.8 727.5,558.1 730.0,560.0 733.1,561.2 736.2,560.0 738.8,557.5 741.9,559.4 746.2,561.9 748.1,558.1 751.2,555.0 752.5,550.0 753.1,542.5 755.0,538.1 758.1,533.8 763.1,533.8 765.6,531.9 767.5,531.0 769.4,532.5 771.2,535.0 775.0,538.1 778.1,540.0 779.0,543.8 777.5,547.5 776.2,551.2 774.4,555.0 772.5,555.6"/>
<path class="b" d="M772.5,555.6 775.0,556.9 773.1,560.0 772.8,565.0 774.4,570.0 778.8,572.5 781.9,576.9 784.4,580.6 783.8,584.4 780.0,590.0 777.5,595.0 778.8,600.0 781.9,606.2 784.4,613.8 785.0,615.0"/>
<path class="b" d="M775.6,551.9 778.1,552.5 778.8,550.0 780.6,546.9 784.4,545.6 785.6,543.8 785.6,540.6 784.4,538.1 781.9,536.9 781.9,533.8"/>
<path class="b" d="M713.1,552.2 715.0,553.1 717.5,557.5 721.2,561.2 725.6,564.4 729.4,566.0 732.5,568.8 734.4,572.5 736.5,575.6 735.6,580.0 736.0,585.0 737.5,586.2 736.5,590.0 737.8,593.8 739.4,597.5 738.8,601.2 736.9,605.0 737.5,608.8 739.4,611.9 740.0,615.0"/>
<path d="M655.0,577.5 656.0,573.1 660.0,569.0 663.1,568.1 665.6,569.8 670.0,566.0 673.5,565.0 672.8,562.5 669.0,561.5 666.9,559.4 668.8,556.9 672.2,555.6 672.8,553.1 675.0,554.4 676.9,549.4 679.4,547.2 680.2,549.4 678.1,553.1 677.5,557.5 679.0,560.6 680.6,556.9 682.5,558.1 683.1,561.2 686.9,559.4 689.4,557.5 690.6,553.8 688.1,553.1 686.0,551.2 686.5,548.1 688.1,545.0 689.4,541.9 691.2,541.0 693.8,542.5 694.4,545.6 693.1,549.4 695.0,548.8 696.9,545.0 696.2,541.9 698.1,539.4 700.0,540.0 702.5,536.9 701.9,534.4 700.0,533.1 701.2,527.5 702.5,526.9 703.1,530.0 705.0,531.2 706.2,533.1 708.1,532.5"/>
<path d="M655.0,577.5 658.8,575.0 662.5,571.9 666.2,570.6 671.2,568.1 675.0,566.2 678.8,563.8 683.1,561.9"/>
<path d="M683.1,565.0 690.6,564.8 689.4,566.2 685.0,566.9Z"/>
<path d="M651.9,614.4 653.8,610.0 657.5,608.1 663.8,606.9 660.0,608.8 656.9,606.2 656.9,602.5 658.8,599.4 662.5,596.9 661.9,595.0 664.4,591.9 668.1,589.4 675.0,590.0 668.1,588.1 670.0,585.0 673.1,583.1 676.2,586.2 675.0,583.1 671.2,581.2 670.0,578.1 671.9,575.6 675.6,574.4 673.8,572.5 676.9,570.6 680.0,569.4 681.2,572.5 680.6,576.2 680.0,571.2 681.9,568.1 683.1,565.0"/>
<path d="M690.6,564.8 691.2,557.5 693.8,551.2 696.9,546.9 699.4,545.0 698.8,542.5 701.2,541.2 702.5,538.1 704.4,535.6 706.2,534.4 705.6,538.8 706.9,543.8 708.1,540.0 708.8,535.0 710.6,533.8 711.2,538.1 710.6,545.0 712.5,542.5 713.8,540.0 713.8,535.0 716.2,533.8 718.1,533.1 720.0,531.2 721.9,533.1 723.5,535.6 722.5,532.5 720.0,528.8 719.4,526.9 723.1,526.2 727.5,525.0 731.9,523.8 732.5,527.5 733.1,531.2 734.4,528.8 733.8,525.6 735.6,523.8 738.8,520.6 740.0,518.1 738.8,516.2 736.9,518.1 735.0,520.6 733.1,521.9 734.4,518.1 735.0,513.8 733.1,513.1 730.0,515.0 726.2,516.2 724.4,517.5 725.6,520.0 728.8,520.2 732.5,519.4"/>
<path d="M738.8,520.6 741.2,516.9 742.5,513.1 744.4,510.0 747.5,509.4 750.0,511.2 751.2,513.1 750.0,516.9 748.1,521.2 746.9,525.6 746.2,528.1 747.5,529.8 749.4,528.1 751.2,523.8 753.1,520.0 755.0,516.2 757.5,512.5 759.4,511.2 758.8,515.0 758.1,520.0 758.8,523.1 760.6,521.2 761.9,516.9 763.8,514.4 765.6,513.1 763.8,511.2 764.4,508.8 766.9,507.5 770.0,508.1 772.5,510.0 772.2,513.1 770.0,514.4 768.8,516.9 770.6,519.4 771.0,523.8 770.6,526.5 771.9,522.5 772.5,518.8 773.8,515.0 775.6,512.5 778.1,513.1 780.6,515.6 783.8,516.9 786.2,518.8 790.0,520.6"/>
<path d="M749.4,506.9 751.9,506.0 755.0,507.5 755.6,509.4 753.1,510.2 750.0,509.4Z"/>
<path d="M711.9,527.5 714.4,526.9 715.6,528.8 714.4,530.6 712.2,530.0Z"/>
<path d="M651.9,614.4 653.1,611.9 651.9,609.4 655.6,613.1"/>
<path d="M788.8,520.6 791.2,522.5 791.9,525.0 788.8,526.9 785.6,529.4 781.2,529.8 775.6,528.5 775.0,529.8 780.0,531.2 781.9,533.8 785.0,535.0 788.8,536.2 791.9,536.9 795.6,538.8 798.1,536.2 800.0,533.5 803.1,535.0 806.2,536.9 807.2,539.4 805.0,540.6 801.2,540.0 800.6,541.9 803.1,543.5 806.2,544.0 807.5,545.6 809.4,544.4 810.6,546.2 810.0,550.6 808.1,552.5 810.0,550.0 811.9,546.9 815.6,546.5 819.4,548.1 821.9,549.0 824.4,547.8 828.1,549.4 832.5,552.5 837.5,556.2 842.5,560.0 845.6,563.8 848.1,566.9 851.2,567.5 854.4,570.6 856.9,572.8 858.1,571.0 859.4,573.1 861.9,576.9 866.2,579.4 867.5,582.5 868.1,587.5 869.8,590.0 869.4,595.0"/>
<path d="M786.2,538.1 788.8,536.9 791.5,538.8 791.2,541.9 788.8,542.2 785.6,540.6Z"/>
<path d="M884.4,560.0 887.5,561.9 890.6,563.1 895.0,562.5 900.0,562.5 903.8,564.4 905.6,568.8 908.1,573.1 910.2,576.2 907.5,577.5 901.2,578.5 898.8,581.2 896.2,584.4 896.9,586.9 900.6,590.0 902.5,593.1 903.1,595.0"/>
<path d="M884.4,560.0 885.0,561.9 888.1,565.0 891.2,568.1 891.9,573.8 890.6,578.8 888.8,584.4 887.8,588.1 889.4,590.6 892.5,591.9 893.8,595.0"/>
<path d="M920.0,581.2 918.8,582.5 918.1,588.8 917.5,595.0"/>
<path d="M798.1,590.6 802.5,590.6 806.2,591.9 806.9,595.0"/>
<path d="M798.8,590.6 801.9,593.1 803.1,595.0"/>
<path d="M770.0,508.1 771.9,509.4 772.8,511.9 771.2,514.4 770.0,513.1"/>
<path d="M1061.2,346.9 1056.9,350.6 1054.4,354.4 1053.8,356.9 1050.0,358.8 1047.5,360.6 1043.8,363.8 1040.0,365.0 1036.2,366.2 1033.1,368.1 1028.1,368.8 1024.4,367.2 1021.2,366.5 1018.5,368.1 1018.1,371.9 1016.9,374.0 1014.4,372.5 1011.9,373.5 1010.0,376.9 1006.2,378.5 1001.9,380.6 998.8,384.4 995.6,386.5 995.6,388.8 993.1,392.5 992.5,395.6 988.8,394.8 986.2,396.0 986.5,399.4 985.0,402.5 983.8,403.5 981.0,400.6 978.8,401.9 978.5,404.4 980.0,406.0 983.8,406.9 981.2,409.4 978.8,413.1 976.9,417.5 978.1,419.4 981.2,420.2 978.1,421.5 975.0,422.8 973.8,426.2 971.9,430.6 970.0,434.4 966.2,436.9 963.1,440.6 964.4,443.8 965.6,445.0"/>
<path d="M1061.2,374.4 1056.2,376.9 1050.0,380.6 1043.8,383.8 1037.5,386.2 1031.2,390.0 1026.2,393.1 1022.5,396.9 1020.0,397.5 1017.5,401.2 1015.0,404.8 1012.2,406.0 1014.0,408.8 1011.9,412.5 1009.4,413.5 1008.1,416.9 1005.0,415.6 1003.8,418.8 1002.5,421.2 999.4,420.6 998.8,422.5 1000.0,426.2 998.1,430.6 993.8,433.5 993.1,436.9 994.4,440.0 991.2,440.6 989.8,438.8 991.2,442.5 990.6,445.0"/>
<path d="M963.8,442.5 966.2,446.2 967.2,451.2 969.4,449.4 971.9,448.8 974.4,451.0 978.8,451.9 983.8,452.8 986.9,451.2 988.8,447.5 991.5,444.4 991.2,441.2"/>
<path d="M967.2,452.2 963.8,453.1 960.6,454.4 958.5,456.9 959.4,460.0 960.0,463.1 956.9,463.1 954.8,465.0 953.8,467.5 956.5,469.4 956.2,473.1 955.0,477.5 952.8,481.9 949.4,482.5 946.9,483.8 945.6,487.5 945.6,492.5 946.9,496.2 949.4,498.5 953.1,497.2 957.5,497.8 960.2,497.2 960.0,499.8 961.9,501.9 963.8,504.4 966.0,506.5 963.1,508.1 961.9,511.2 960.6,512.2 963.8,513.8 968.1,515.6 970.0,516.2 973.8,517.2 976.9,516.5 978.8,518.1 981.9,517.5 983.1,516.0 984.4,518.5 988.1,518.5 990.2,517.2 992.2,515.2 990.0,513.1 986.9,511.0 983.8,506.9 980.6,501.2 978.1,495.0 976.2,489.4 974.8,487.2 976.0,483.1 976.2,480.0 975.2,476.2 976.0,471.9 977.8,470.0 978.1,466.9 981.2,465.6 981.5,461.2 982.5,458.1 983.5,455.6 979.8,454.0 975.0,453.1 971.2,451.5Z"/>
<path d="M951.2,501.9 953.8,500.6 956.2,501.0 958.1,504.4 958.8,508.1 957.8,510.2 956.2,507.5 954.4,504.4 951.9,503.8Z"/>
<path d="M998.5,526.2 1000.0,523.1 1002.5,521.5 1005.0,524.0 1007.5,527.5 1010.6,530.2 1013.1,533.1 1013.5,536.9 1011.9,538.8 1008.1,538.1 1006.2,535.0 1003.8,534.0 1001.2,533.1 999.8,530.0Z"/>
<path d="M1012.2,539.4 1014.4,537.5 1016.9,535.6 1020.0,536.2 1023.8,537.2 1028.8,537.8 1033.8,538.8 1038.8,540.6 1043.1,543.1 1046.2,546.2 1047.5,548.1 1051.2,550.0 1055.0,552.5 1058.8,554.8 1061.5,555.6"/>
<path d="M1012.2,539.4 1013.1,543.8 1014.8,547.5 1015.2,550.6 1017.2,552.5 1016.9,555.6 1015.0,558.1 1012.5,559.8 1009.4,560.0 1009.0,563.1 1009.8,565.0"/>
<path d="M1060.0,506.2 1060.6,510.0 1060.2,513.8"/>
<path d="M1058.1,514.8 1058.8,518.8 1059.8,521.0"/>
<path d="M921.9,548.1 923.8,544.4 927.5,542.5 931.2,544.4 935.0,547.2 937.5,550.0 936.9,552.5 935.0,551.9 933.1,555.0 930.0,557.5 925.6,559.4 923.1,557.5 921.5,553.1Z"/>
<path d="M951.9,561.2 956.2,558.1 960.0,555.6 963.1,553.8 968.1,553.5 963.8,555.0 963.1,558.8 963.8,561.9 963.1,565.0"/>
<path d="M945.6,565.0 948.8,563.1 951.9,563.8 952.5,565.0"/>
<path d="M972.5,565.0 975.0,561.9 980.0,560.6 985.0,561.5 988.1,562.5 991.2,560.6 995.0,556.9 999.4,554.4 1002.5,553.5 1004.0,556.2 1005.6,558.8 1003.8,561.9 1003.1,565.0"/>
<path d="M920.0,581.9 923.8,580.6 926.2,580.0 925.0,576.2 928.1,576.9 932.5,573.8 936.2,570.6 940.0,567.2 944.4,566.0 948.1,563.8 951.0,563.5 951.9,566.9 955.6,564.8 953.8,561.2 952.8,565.0"/>
<path d="M963.1,565.0 964.4,565.6 961.9,566.5 959.4,568.1 962.5,569.4 966.2,569.0 969.4,568.5 970.6,570.6 971.9,567.5 972.5,565.0"/>
<path d="M1003.1,565.0 1006.2,566.2 1008.1,566.9 1009.4,565.0 1009.8,565.0"/>
<path class="b" d="M785.0,615.0 785.2,617.5 782.5,618.8 781.9,623.8 783.1,627.5 781.2,630.6 782.5,633.8 785.6,635.0 784.8,640.0 787.5,643.1 788.8,646.2 786.9,650.0 784.4,652.5 786.2,655.6 790.0,658.8 793.8,662.5 796.2,666.2 795.0,670.0 793.1,673.8 790.0,677.5 786.2,681.9 782.5,686.9 778.8,691.9 774.4,696.2 770.6,700.6 770.0,701.9"/>
<path d="M869.4,595.0 866.9,599.4 863.8,603.8 860.6,606.9 857.5,608.5 853.8,610.0 850.0,611.0 846.2,611.2 841.9,610.0 838.5,608.1 835.0,606.9 830.0,606.0 825.6,605.0 823.1,603.1 820.6,601.2 818.1,602.2 816.9,600.0 813.8,599.4 810.0,598.1 806.9,595.6 806.2,592.5 802.5,590.6 798.5,590.6 801.2,592.5 802.8,595.6 805.0,598.1 807.5,600.0 808.8,603.1 811.2,604.4 810.0,606.5 813.1,607.5 816.2,609.4 818.8,611.9 820.6,615.6 819.8,620.0 817.5,623.8 819.4,628.1 820.6,632.5 820.6,636.9 821.9,640.0 824.4,641.9 826.9,641.2 830.0,643.8 831.9,647.5 836.2,649.4 840.0,651.5 843.1,649.8 845.2,647.5 844.8,643.8 843.8,641.5 840.6,641.2 838.1,640.6 835.6,636.9 833.5,633.5 834.4,631.2 835.6,627.8 838.1,626.9 841.0,628.5 843.8,631.2 845.0,633.1 848.8,634.0 853.1,636.0 856.9,638.5 859.0,635.6 861.9,634.8 862.5,632.5 861.2,630.0 859.4,627.5 857.5,623.8 857.5,620.6 860.0,618.1 862.5,615.6 865.0,612.8 868.8,611.2 871.9,608.8 874.4,605.0 876.2,602.5 878.8,604.4 883.1,604.4 886.2,606.5 886.9,610.0 888.8,610.0 890.6,612.2 890.0,608.8 891.2,604.4 893.1,600.6 893.8,596.9 893.8,595.0"/>
<path d="M903.1,595.0 904.4,596.0 908.1,597.2 912.5,596.0 916.9,594.8 917.5,595.0"/>
<path d="M826.0,627.5 827.8,627.2 828.5,629.4 827.2,630.6 825.8,629.4Z"/>
<path d="M878.1,597.5 880.0,599.4"/>
<path class="b" d="M668.5,615.0 668.1,620.0 667.2,625.6 665.2,630.6 663.1,635.0 661.5,637.5 664.4,640.0 665.2,643.8 663.8,647.5 660.0,646.9 656.2,647.5 653.1,650.0 650.6,654.4 649.0,658.8 649.8,665.0 650.0,671.2 651.0,676.2 650.0,681.2 650.0,685.6 652.8,688.1 655.6,691.2 655.0,695.0 651.2,696.9 651.9,700.6 653.5,705.0 652.8,710.0 650.6,713.1 647.8,715.0 646.5,718.8 647.2,723.1 647.5,725.0"/>
<path d="M651.9,614.4 652.5,615.6 650.6,620.0 649.8,623.8 651.9,626.9 655.6,624.8 653.1,628.1 650.0,628.1 646.2,630.6 643.1,632.2 640.0,632.8 641.9,634.4 645.0,634.0 644.4,635.6 641.2,638.1 637.5,642.5 634.4,646.9 631.9,650.0 630.6,652.5 632.5,655.0 633.8,658.1 638.8,656.9 640.0,654.4 643.1,651.9 644.4,648.8 642.2,647.5 640.6,651.2 637.5,655.0 633.8,657.5"/>
<path d="M630.6,653.8 627.5,655.6 625.0,653.8 622.5,652.5 620.0,654.4"/>
<path d="M620.0,658.8 621.9,661.2 620.6,663.8 623.8,667.5"/>
<path d="M647.5,618.8 648.1,619.4"/>
<path class="b" d="M740.0,615.0 740.2,615.6"/>
<path d="M740.2,615.6 738.1,616.0 733.1,616.5 730.0,615.2 726.9,615.6 726.2,618.8 723.8,621.2 721.9,623.1 720.0,625.0 720.6,628.1 719.4,631.2 717.8,633.5 719.4,637.5 720.6,640.2 718.1,643.1 716.2,646.9 714.4,650.6 710.6,653.5 707.5,655.6 705.0,657.2 703.1,658.8 700.0,661.0 697.5,663.8 696.0,665.6 695.0,668.5 692.5,669.4 692.2,672.5 689.4,674.4 690.6,677.2 689.4,681.2 688.8,685.6 687.5,687.5 687.5,692.5 688.1,698.1 688.8,701.9 691.9,703.1 694.4,703.8 696.2,706.2 698.8,708.8 700.6,711.2 701.5,714.4 700.0,717.5 698.1,720.0 695.0,721.9 697.5,721.2 696.9,725.0"/>
<path d="M740.2,615.6 743.8,615.6 745.0,618.1 748.1,620.0 749.8,622.5 749.4,626.9 748.8,630.0 746.2,629.4 743.8,630.0 745.6,631.9 748.8,632.8 745.0,633.5 743.1,636.2 740.6,640.6 737.5,645.6 734.4,649.4 730.6,652.5 727.5,655.6 726.0,659.4 723.8,661.2 720.0,661.5 717.5,661.0 721.2,663.1 720.0,665.6 718.1,669.4 717.8,673.8 719.4,677.5 718.8,681.2 720.6,686.2 720.0,691.2 720.2,696.2 719.4,700.0 719.0,703.5 721.9,704.0 724.4,705.6 727.5,706.2 728.8,708.8 730.6,710.0 733.1,711.9 735.6,713.1 739.4,711.9 743.8,710.0 748.8,708.1 753.8,706.2 757.5,704.4 762.5,703.5 766.9,703.1 770.0,701.2"/>
<path d="M705.6,708.8 707.5,706.9 709.4,707.2 710.2,709.0 708.1,710.6 706.2,710.2Z"/>
<path d="M711.9,711.0 713.8,711.5"/>
<path d="M720.0,710.0 723.1,709.8"/>
<path d="M731.2,714.4 734.4,713.1"/>
<path d="M723.1,706.2 726.2,708.8 725.6,706.9 728.1,710.0"/>
<path d="M735.0,724.4 738.1,721.9 743.8,719.4 750.0,717.5 755.0,718.1 760.0,719.4 765.0,720.0 770.0,720.6"/>
<path d="M770.0,716.2 768.8,720.0 769.4,725.0"/>
<path d="M636.2,725.0 637.5,720.0 638.1,716.2 638.8,720.6 640.6,725.0"/>
<path d="M502.8,679.4 505.6,676.5 510.0,675.6 510.2,678.5 508.1,680.0 506.2,680.2Z"/>
<path d="M507.2,681.2 508.5,684.8"/>
<path d="M506.5,687.5 508.1,690.2"/>
<path d="M552.5,699.8 550.6,701.9 550.0,705.6 550.6,709.4 549.4,711.2"/>
<path d="M546.5,708.1 548.5,703.8 550.0,702.5"/>
<path d="M548.5,713.1 549.0,714.4"/>
<path d="M535.0,722.5 538.1,723.8 540.6,722.5"/>
<path d="M533.5,725.6 536.2,725.0 537.8,727.5 536.2,730.6 534.0,729.8Z"/>
<path d="M521.2,732.8 525.0,733.8 530.0,732.5 535.2,731.9 535.6,735.0 533.8,737.5 531.2,740.0 528.5,742.5 527.8,746.2 531.2,745.6 536.2,745.6 541.2,745.4 544.4,746.0 545.4,748.8 543.8,751.9 542.2,756.2 540.0,760.0 537.5,762.5 534.0,763.8 537.5,764.4 538.5,766.2 535.6,768.1 530.6,767.8 534.4,769.0 539.4,768.8 543.1,771.2 545.6,774.4 547.2,778.1 548.1,782.5 548.5,785.0"/>
<path d="M521.2,732.8 520.2,736.5 518.1,738.1 517.2,741.9 519.8,742.8 516.2,744.0 514.8,747.5 515.6,750.0 516.5,753.1 515.2,756.9 518.1,759.4 519.4,758.8 517.5,762.5 516.5,766.2 516.0,770.0 517.5,773.1 515.2,777.5 519.4,774.4 521.2,770.0 523.1,767.5 523.8,770.6 522.5,773.8 523.8,776.2 522.5,779.4 520.6,781.9 520.0,785.0"/>
<path d="M505.2,739.0 508.1,736.5 511.5,734.4 512.2,736.5 510.6,740.0 508.1,742.8 506.0,743.8 505.2,741.2Z"/>
<path d="M502.2,746.9 504.4,747.5"/>
<path d="M502.8,750.6 503.5,753.1"/>
<path d="M501.9,755.6 502.8,756.2"/>
<path d="M507.8,748.1 510.6,746.5 512.5,749.0 513.1,752.5 515.0,754.4 512.5,755.0 510.2,752.5 508.5,750.6Z"/>
<path d="M511.2,760.0 513.8,759.0 515.2,761.9 514.4,764.8 511.9,764.4 510.6,761.9Z"/>
<path d="M509.8,772.5 511.9,770.0 514.4,767.8 515.2,770.0 513.1,773.1 510.6,774.0Z"/>
<path d="M516.0,776.9 518.1,773.1"/>
<path d="M620.0,663.5 615.6,663.8 611.9,666.2 609.8,669.4 612.5,670.2 615.6,671.9 611.2,671.2 606.9,671.5 602.5,674.0 599.4,676.9 596.9,680.0 595.6,683.1 598.8,682.5 603.8,683.5 608.8,683.1 602.5,684.0 597.5,684.0 595.6,686.9 597.5,690.0 596.2,693.8 595.0,695.6 599.4,695.2 605.0,694.4 608.8,693.5 611.2,696.2 611.9,693.1 615.0,692.8 613.8,690.6 610.6,694.4 605.0,695.6 598.8,696.5 596.5,697.5 596.9,702.5 600.6,701.9 596.9,705.0 595.6,708.1 597.5,710.6 601.2,710.0 605.0,708.1 607.5,705.6 611.0,704.8 608.1,706.9 605.6,709.8 602.5,711.2 598.8,711.9 597.5,715.0 600.0,715.6 604.4,714.4 601.2,716.9 598.1,718.1 597.5,721.2 597.2,724.4 600.0,723.8 603.1,721.2 606.2,719.4 604.4,722.5 603.8,727.5 606.2,727.5 602.5,728.5 600.6,728.1 600.0,731.9 601.9,735.0 605.0,737.5 608.1,739.4 611.2,741.0 615.0,741.2 618.1,740.0 620.0,739.0"/>
<path d="M492.5,786.2 495.0,782.5 496.2,780.0 500.0,779.0 502.8,778.1 504.4,777.5 506.2,779.4 510.0,779.0 513.1,780.0 514.4,783.1 516.0,786.2 517.5,788.8 516.5,791.2 514.4,793.8 511.9,795.0 512.2,797.5 513.1,801.2 513.8,806.2 513.1,810.0 511.9,813.8 510.6,817.2 507.5,817.5 503.8,818.1 501.2,819.4 498.8,821.2 496.2,821.9 494.4,823.8 491.2,825.0 488.8,826.2 485.0,826.2 486.2,824.4 482.5,825.0 484.4,822.5 480.6,821.9 480.2,818.1 482.5,816.2 484.4,816.9 484.8,813.1 488.1,811.9 492.2,811.2 487.5,813.1 485.0,812.5 487.2,809.4 490.0,807.5 491.2,805.6 488.8,805.0 485.6,804.4 482.5,802.5 483.1,800.0 486.2,799.4 483.1,796.9 481.9,795.6 483.8,791.9 487.5,791.2 491.2,791.9 494.4,791.2 495.6,788.8 498.1,787.5 502.5,784.4 502.8,782.5 500.0,786.2 496.9,788.1Z"/>
<path class="b" d="M496.9,788.8 498.1,791.2 501.2,793.1 503.8,792.5 505.6,790.0 507.5,791.9 509.4,794.0 511.9,794.4 514.4,793.8"/>
<path d="M548.5,785.0 551.2,787.5 554.4,790.0 556.9,793.1 558.1,796.2 558.5,800.0 556.9,799.4 553.8,798.8 557.5,800.0 559.4,802.5 561.2,805.6 560.0,808.8 562.5,808.1 566.2,807.8 569.4,809.4 571.5,812.5 571.2,816.9 569.4,820.0 566.9,821.9 565.0,824.4 562.5,826.5 565.6,827.5 569.4,827.8 568.8,830.6 565.6,833.1 561.9,834.8 558.1,834.8 553.8,835.0 550.0,834.8 548.8,833.8 547.5,836.2 544.4,835.0 540.0,836.2 536.2,835.6 533.1,836.9 531.2,841.2 528.8,840.6 525.0,840.0 521.2,841.9 518.8,843.8 516.2,842.5 518.1,840.0 521.2,836.2 523.8,833.1 525.0,830.6 528.1,829.4 532.5,828.8 535.0,828.1 537.5,825.6 540.6,823.5 538.1,825.0 535.0,827.5 531.2,826.9 527.5,825.0 523.8,824.0 520.0,823.8 519.0,821.2 521.9,819.4 525.0,818.1 527.5,815.6 527.8,811.2 526.9,808.8 523.8,810.0 525.0,806.9 526.9,805.6 525.0,803.1 528.1,803.5 532.5,803.5 537.5,803.8 535.6,802.8 536.0,798.8 536.9,793.8 533.8,792.5 531.9,789.4 531.9,785.6 535.0,783.1 531.2,783.5 528.1,785.2 523.8,784.4 521.2,785.6 520.0,785.0"/>
<path d="M522.5,793.1 524.4,790.2 526.0,790.6 525.0,793.5 523.5,794.4Z"/>
<path d="M524.4,803.5 526.2,802.2 527.5,803.8 526.0,805.2Z"/>
<path d="M547.2,834.8 549.0,833.5 550.2,835.0 549.0,836.9Z"/>
<path d="M538.1,850.0 539.8,850.2"/>
<path d="M541.0,852.5 543.8,853.1"/>
<path d="M559.4,847.2 561.9,846.2 566.2,845.0 569.4,842.5 570.4,838.1 570.6,833.8 573.1,831.9 577.5,831.2 581.2,828.8 585.0,826.9 587.5,825.0 590.0,820.6 592.5,816.2 593.8,811.2 594.4,806.9 596.2,804.4 600.0,802.2 605.0,801.5 610.0,801.9 611.9,800.0 615.6,799.0 620.0,799.8"/>
<path d="M596.2,811.2 598.8,807.5 601.0,808.8 600.2,812.5 602.2,813.8 601.2,816.2 598.8,817.2 596.5,815.6Z"/>
<path d="M595.0,807.5 598.8,805.0 602.5,803.5 607.5,802.8 611.2,803.5"/>
<path class="b" d="M611.9,802.8 612.2,807.5 610.6,811.9 609.4,815.0 610.6,818.8 607.5,821.2 604.4,822.5 603.8,825.6 604.8,830.0 602.5,832.5"/>
<path d="M584.4,825.6 586.9,823.5 589.8,824.8 590.6,827.5 588.1,829.4 585.0,828.8Z"/>
<path class="b" d="M583.1,828.1 587.5,828.8 591.9,827.2 595.6,826.9 598.8,828.8 601.2,831.2 602.5,833.8 603.8,835.0"/>
<path class="b" d="M577.5,831.2 578.5,834.4 581.2,835.6 583.1,838.1 586.9,840.0 589.4,841.2 590.6,844.4 593.1,845.0 596.2,846.9 598.8,849.0 601.9,849.8"/>
<path class="b" d="M602.5,832.5 604.8,835.0 606.2,838.8 605.0,841.9 602.5,843.1 601.9,846.2 602.5,849.8"/>
<path class="b" d="M602.5,843.8 605.6,845.0 607.5,847.5 606.5,850.0 603.8,850.0"/>
<path class="b" d="M606.5,850.0 608.8,853.1 612.5,854.4 616.9,855.0 620.0,856.2 618.1,860.0 616.2,865.0 615.6,870.0 615.0,871.9"/>
<path class="b" d="M615.0,871.9 611.9,873.1 610.0,876.2 606.9,880.0 605.0,883.1 604.4,886.2 606.9,884.4 609.4,885.0 610.6,888.1 612.5,889.4 615.6,888.8 618.8,887.5 620.0,886.9"/>
<path class="b" d="M615.0,871.9 617.5,871.2 620.0,870.6"/>
<path d="M559.4,847.2 560.0,850.0 559.4,851.9 556.9,852.5 552.5,851.2 550.0,850.6 548.8,847.8 545.6,847.5 545.0,850.0 546.5,853.1 547.2,857.5 547.8,859.4 543.8,859.4 540.0,860.0 537.5,860.6 535.6,858.1 532.5,857.5 528.8,858.8 525.0,859.4 522.5,861.2 523.1,863.1 526.2,863.1 523.8,865.0 525.0,868.8 528.1,869.4 532.5,870.6 536.2,871.9 539.4,873.1 541.9,875.0 545.0,875.2 543.1,876.9 542.5,880.0 544.4,882.5 546.9,884.4 550.0,886.2 550.6,889.4 548.8,890.2"/>
<path d="M620.0,739.0 621.2,737.5 624.4,734.4 627.5,730.6 630.0,727.5 631.9,725.6 634.4,726.9 636.9,723.8 637.8,720.0 638.1,716.2 639.4,722.5 641.9,725.0 644.4,728.1 643.5,731.2 644.0,736.2 645.6,740.6 647.5,745.0 649.4,749.4 651.2,753.8 653.1,757.5 655.6,761.2 654.8,764.4 652.5,765.0 654.4,768.1 656.2,772.5 656.5,776.2 659.4,777.2 663.1,776.5 665.6,775.0 666.0,771.2 668.1,768.8 671.2,766.9 675.0,766.5 678.1,766.9 679.8,763.8 681.0,759.4 682.2,755.0 683.1,750.0 684.0,743.8 684.8,737.5 685.0,733.8 680.6,732.5 685.0,733.1 688.1,730.6 691.9,728.1 696.2,725.6 696.9,725.0"/>
<path d="M610.0,740.0 613.8,741.0 617.5,739.8 620.0,739.0"/>
<path class="b" d="M647.5,725.0 646.9,726.9 644.4,728.1"/>
<path d="M681.2,765.0 683.8,757.5 687.2,750.6 686.5,755.0 684.4,761.2 682.5,765.6Z"/>
<path d="M695.0,750.0 696.2,745.6 699.4,743.1 703.5,741.5 701.2,745.0 700.0,750.0 697.5,754.4 695.6,756.2 694.8,753.1Z"/>
<path d="M622.5,781.2 623.1,778.1 621.2,775.0 619.8,771.2 620.0,766.2 619.4,761.2 620.6,756.9 622.5,754.4 626.2,753.1 629.4,753.8 631.9,750.0 633.8,747.5 636.2,746.0 638.1,745.6 637.2,750.0 636.5,755.0 636.9,759.4 638.1,761.2 640.6,762.5 640.0,765.0 636.9,765.6 635.0,769.4 633.8,773.1 631.9,775.6 630.6,778.8 630.0,781.2"/>
<path d="M621.2,759.4 623.8,758.1 626.9,756.2 628.5,755.6 628.1,758.8 626.2,759.4"/>
<path d="M622.5,761.2 623.8,762.5"/>
<path d="M633.1,776.2 635.6,774.8 639.4,775.0 640.6,778.1 640.0,781.2 636.9,781.9 633.8,780.0Z"/>
<path d="M641.9,773.1 645.0,771.2 647.5,771.9 648.8,768.8 651.9,767.5 653.8,770.0 653.1,773.8 651.2,776.2 651.9,778.8 648.8,780.0 647.5,783.1 645.6,780.6 643.1,778.1 642.2,775.6Z"/>
<path d="M641.9,785.0 645.0,786.2 647.5,785.0"/>
<path d="M636.9,769.4 638.1,768.8 638.5,771.9 637.2,772.5Z"/>
<path d="M640.6,751.2 642.5,751.0"/>
<path d="M669.0,779.0 670.6,778.1 672.5,780.0 671.2,781.9 669.4,781.2Z"/>
<path d="M622.5,781.2 620.6,785.0 625.0,785.0 628.8,784.4 632.5,785.6 633.8,788.1 636.9,789.4 640.0,790.6 642.8,789.4 641.2,792.5 640.0,795.0 643.1,796.0 646.2,794.4 649.4,791.9 653.1,789.4 656.9,790.0 658.1,786.9 660.0,786.2 661.9,788.8 661.2,791.9 663.8,794.4 666.9,796.2 665.0,797.5 662.5,795.0"/>
<path d="M666.9,796.2 671.2,794.4 676.2,792.8 680.6,791.2 683.8,788.1 688.1,786.0 692.5,784.8 696.9,784.8 699.4,786.2 697.5,786.9 698.1,789.4 700.6,790.6 703.8,790.2 706.2,789.4 708.1,787.5 708.8,785.0 709.4,783.1"/>
<path class="b" d="M708.8,789.0 716.2,789.8 723.8,790.2 730.0,790.9"/>
<path class="b" d="M730.0,790.9 729.4,787.5 730.2,783.8 728.8,781.9 722.5,780.0 718.8,778.1"/>
<path d="M713.1,781.9 715.6,779.4 717.5,775.6 718.1,772.5 717.2,767.5 716.9,762.5 717.5,757.5 719.4,752.5 720.6,748.8 723.8,746.5 727.5,745.6 730.0,748.1 733.1,752.5 736.2,755.0 740.0,754.0 741.9,750.6 741.9,745.0 743.1,741.9 740.6,737.5 738.1,735.6 736.0,732.8 736.2,729.4 735.0,725.0 737.5,722.5 741.2,720.6 746.2,719.4 750.6,717.5 755.0,718.1 760.0,719.4"/>
<path d="M723.1,734.4 726.9,733.1 730.6,732.8 733.8,733.1 731.9,735.6 728.8,737.2 725.6,738.8 725.0,741.9 723.8,738.1Z"/>
<path d="M724.4,727.8 726.9,726.5 729.4,726.0 731.2,728.1 730.0,730.6 727.5,731.0 726.2,729.4Z"/>
<path class="b" d="M717.5,767.5 720.0,765.2 723.8,763.8 728.8,763.1 733.8,763.8 738.8,764.8 743.1,765.0 745.6,763.8 747.5,765.6 751.2,767.5 755.0,770.6 758.1,773.1 760.0,773.8"/>
<path class="b" d="M741.9,743.1 745.0,741.2 748.1,740.6 751.9,741.9 755.0,744.4 757.5,746.9 760.0,747.5"/>
<path class="b" d="M730.0,790.9 733.1,791.9 735.0,793.8 736.2,796.2 740.6,796.5 745.0,795.0 748.8,793.1 751.2,791.9 752.2,787.5 753.1,783.8 755.6,781.2 759.4,780.0 760.0,778.1"/>
<path class="b" d="M758.1,773.8 759.4,776.2 758.1,778.8 760.0,780.0"/>
<path class="b" d="M736.2,796.2 736.9,801.2 737.8,806.2 738.5,810.6 736.2,813.8 733.8,816.9 735.0,819.4 736.2,823.1 738.8,824.4 740.0,825.0"/>
<path class="b" d="M740.0,821.9 745.0,820.6 750.0,820.2 755.0,821.0 760.0,821.9"/>
<path class="b" d="M663.8,794.4 665.6,798.8 666.9,802.5 666.2,806.2 665.0,808.8 666.9,811.2 668.1,815.0 668.8,818.8 669.4,822.5 669.8,825.0"/>
<path d="M610.0,800.0 612.5,799.4 616.2,799.4 619.4,800.0 620.6,801.9 622.5,800.0 622.8,796.9 625.0,796.2 628.8,796.9 631.2,800.0 628.1,796.2 625.0,793.8 624.8,790.0 623.1,787.5 622.5,785.0"/>
<path class="b" d="M622.5,784.0 626.2,784.4 630.0,784.0"/>
<path d="M610.0,803.8 611.9,804.4 612.2,808.8 611.2,811.9 610.0,812.5"/>
<path class="b" d="M669.8,825.0 670.6,827.5 671.5,830.0 671.2,833.1"/>
<path class="b" d="M671.2,833.1 673.8,833.8 677.5,835.6 681.2,837.5 683.1,839.4 682.5,841.2 684.4,842.5 686.2,840.0 688.1,839.4 690.6,841.9 692.5,840.6 693.1,843.1 696.2,844.4 698.1,845.6 699.4,848.1 701.2,850.0 701.9,850.6"/>
<path class="b" d="M671.2,833.1 668.8,833.8 666.9,831.9 665.0,833.8 661.9,835.0 658.1,836.9 654.4,838.8 651.2,840.0 649.8,841.2 651.2,843.8 651.9,846.9 653.1,850.0 655.6,852.5 658.8,855.0 661.9,857.5 663.8,859.4"/>
<path class="b" d="M663.8,859.4 666.9,859.4 670.0,858.5 671.2,856.0 674.4,856.2 678.1,857.5 682.5,858.5 685.6,858.5"/>
<path class="b" d="M685.6,858.5 688.8,857.5 691.9,856.9 694.4,855.0 696.2,852.2 698.1,850.6 700.0,849.8 701.9,850.6"/>
<path class="b" d="M701.9,850.6 703.8,848.8 706.2,850.6 708.1,852.5 710.0,851.9 713.8,851.2 717.5,850.6 720.6,851.2 723.8,852.5 725.6,854.4 728.8,854.8"/>
<path class="b" d="M736.2,823.8 736.9,826.2 738.8,830.0 740.0,834.4 739.4,838.1 736.2,840.6 733.1,844.4 730.6,847.5 729.4,851.2 728.8,854.8"/>
<path class="b" d="M728.8,854.8 727.5,858.1 725.6,861.9"/>
<path class="b" d="M685.6,858.5 686.2,861.9 686.9,865.0 687.5,867.5"/>
<path class="b" d="M687.5,867.5 691.2,869.0 695.0,869.6 698.8,868.8 700.0,866.9 703.8,865.6 707.5,864.8 710.0,864.4 712.5,861.9 716.2,861.0 720.0,860.6 722.5,863.1 725.6,861.9"/>
<path class="b" d="M725.6,861.9 728.1,864.4 731.2,866.2 735.0,866.5 740.0,867.5 744.4,868.1 746.2,870.0 748.8,868.1 753.8,866.2 757.5,865.0 760.0,863.1"/>
<path class="b" d="M731.2,866.5 728.1,868.8 725.0,871.2 723.1,875.0 721.2,879.4 719.4,883.1 717.5,885.6 713.8,886.9 711.2,887.5 710.0,889.4"/>
<path class="b" d="M687.5,867.5 685.0,870.0 682.5,871.9 683.1,875.0 681.9,878.1 681.2,880.0"/>
<path class="b" d="M681.2,880.0 683.8,883.1 686.2,886.2 689.4,889.4 692.5,890.2"/>
<path class="b" d="M697.5,890.2 702.5,888.1 706.2,886.9 710.0,887.5 712.5,890.2"/>
<path class="b" d="M681.2,880.0 678.1,881.2 673.8,883.1 668.8,884.0 663.8,883.5 660.0,883.1"/>
<path class="b" d="M660.0,883.5 659.8,886.9 660.6,890.2"/>
<path class="b" d="M676.2,890.2 676.9,886.9 679.4,884.8 681.2,883.1"/>
<path class="b" d="M660.0,883.1 655.0,882.2 651.2,880.2 650.0,878.1 646.2,878.5 641.9,879.4 638.1,880.6"/>
<path class="b" d="M663.8,859.4 661.2,860.6 659.4,862.5 656.2,864.4 654.8,866.9 656.2,870.0 656.9,872.5 653.8,870.6 650.0,871.2 646.2,872.5 642.5,871.9 639.4,872.5 636.9,871.9 635.6,873.8 633.1,872.5 631.2,872.8"/>
<path class="b" d="M631.2,872.8 630.6,876.2 632.5,878.1 635.0,879.4 638.1,880.6"/>
<path class="b" d="M631.2,872.8 627.5,870.0 625.0,869.4 621.9,870.0 618.8,871.0 615.0,871.2"/>
<path class="b" d="M615.0,871.2 611.9,873.8 610.0,876.2"/>
<path class="b" d="M638.1,880.6 636.9,883.1 633.8,883.8 634.4,886.2 631.2,885.6 629.4,883.1 628.1,886.2 625.6,889.4 623.1,887.5 621.2,885.0 619.4,886.9 618.1,890.2"/>
<path class="b" d="M770.0,701.9 767.5,703.8"/>
<path d="M769.8,701.5 770.6,702.5 773.1,702.2 774.4,703.8 773.1,705.6 775.6,708.1 778.1,709.4 781.9,709.4 783.8,711.0 785.6,713.5 782.5,713.1 778.8,712.8 776.9,714.4 773.8,715.6 771.9,715.0 770.0,716.2 769.8,719.4 770.6,721.9 768.8,723.8 767.5,726.9"/>
<path d="M767.5,726.9 764.4,726.9 761.5,728.8 762.5,731.9 764.4,735.6 766.0,738.1 767.8,734.4 767.5,730.0Z"/>
<path d="M766.2,739.4 768.8,739.0 770.6,741.2 769.8,743.5 767.5,743.1Z"/>
<path class="b" d="M767.5,743.1 765.6,745.0 764.4,747.5"/>
<path class="b" d="M760.0,747.5 762.5,747.2 764.4,747.8"/>
<path class="b" d="M764.4,747.8 766.9,750.0 768.5,751.9 767.5,755.0 766.9,757.5 768.8,759.4 770.2,762.5 770.6,766.2 770.0,767.5"/>
<path class="b" d="M770.0,767.5 767.5,768.8 766.2,771.5 763.1,771.9 760.0,772.5"/>
<path class="b" d="M770.0,767.5 772.5,768.1 775.0,769.4 777.5,768.8 779.4,770.0 780.0,773.1 782.5,771.9 785.6,771.2 788.1,772.5 791.2,775.0 790.6,778.8 791.9,781.9 790.0,784.4 792.2,786.9 793.1,790.0 795.0,792.5 798.1,794.4 797.5,797.5 801.9,798.5 803.1,801.2 805.0,803.1 802.5,805.0 800.0,806.9 796.9,805.6 794.4,805.6 793.5,807.5 795.0,810.0 796.2,813.1 796.5,815.0"/>
<path class="b" d="M796.5,815.0 796.9,818.8"/>
<path class="b" d="M760.0,822.8 763.1,823.8 766.2,825.6 770.0,825.0 773.8,826.2 776.2,825.0 779.4,826.9 783.8,826.5 786.9,826.9 788.1,829.0 789.0,825.0 790.0,821.2 792.8,819.4 796.9,818.8"/>
<path class="b" d="M796.9,818.8 800.0,819.4 802.5,816.9 806.2,816.2 810.0,815.6 813.1,816.2 815.0,820.0 817.2,823.1 815.6,826.2 816.9,829.4 821.2,830.0 823.8,831.9 825.0,835.6 825.6,838.8 828.1,839.4 831.9,840.6 835.0,840.6 839.4,839.4 841.2,840.6 843.1,843.1 846.2,843.8 850.0,845.2 853.8,846.9 857.5,848.5 860.0,850.0 859.4,853.8 857.5,855.6 858.8,858.8 857.5,861.2 859.4,863.8 858.8,866.2 856.9,868.5 853.1,869.0 849.4,869.4 846.9,871.9 846.2,875.6"/>
<path d="M821.2,890.2 820.0,888.1 822.5,885.6 826.2,883.1 831.2,881.2 836.2,879.4 841.2,877.5 846.2,876.2 850.0,875.6 853.8,875.2 854.4,876.9 851.2,878.1 847.5,880.0 844.4,881.9 842.5,883.8 846.2,885.0 848.1,887.5 845.0,889.4 843.8,890.2"/>
<path d="M786.2,890.2 788.1,886.9 790.0,883.1 793.8,882.2 796.9,882.5 798.1,875.6 798.8,882.5 803.8,883.1 796.2,885.6 801.2,887.2 807.5,886.9 811.2,888.1 812.2,890.2"/>
<path class="b" d="M760.0,862.2 763.8,861.9 766.9,861.5 770.0,863.8 773.8,865.0 776.9,866.9 778.8,870.0 779.4,873.8 781.2,876.9 783.1,880.6 785.0,884.4 782.5,885.0 780.0,883.8 777.5,883.8 776.5,886.9 775.6,890.2"/>
<path class="b" d="M760.0,863.1 762.5,867.5 765.6,872.5 768.8,877.5 770.6,881.2 771.0,885.6 770.0,890.2"/>
<path class="b" d="M1061.6,785.3 1055.8,786.8 1050.7,788.0 1048.7,790.5 1043.5,790.9 1035.3,792.9 1027.1,795.0 1020.0,795.6 1018.5,798.7 1018.9,801.7 1022.0,801.7 1020.0,804.8 1025.1,806.9 1024.1,808.9 1018.9,808.5 1017.3,812.0 1016.9,816.1 1013.8,819.2 1011.7,821.2 1014.8,824.3 1020.0,827.0 1022.4,830.5 1021.0,834.6 1016.9,836.6 1011.7,836.6 1009.7,834.6 1007.6,838.0 1003.5,836.6 999.4,832.5 994.3,831.1 989.2,831.9 985.1,831.5 981.0,834.6 977.9,837.2 973.8,835.6 970.7,832.5 968.7,837.6 967.3,832.5 963.6,828.4 959.5,826.4 953.3,825.7 951.3,823.7 947.2,825.3 944.1,824.9 941.0,823.7 937.9,827.0 933.8,829.8 929.7,832.5 925.6,836.0 924.6,838.7 925.6,844.8 922.6,846.2 920.5,842.8 917.4,839.3 914.4,841.3 913.3,844.8 911.3,848.9 911.9,854.0 909.2,859.2 911.3,863.3 913.3,868.4 917.4,870.0 921.5,870.4 924.6,874.5 926.7,879.7 924.2,881.7 926.7,884.4"/>
<path d="M923.6,890.1 926.7,886.8 926.7,884.4 930.8,882.7 935.9,879.7 943.1,876.6 950.2,878.2 957.4,878.6 959.1,882.7 958.4,890.1"/>
<path d="M1000.5,889.7 1004.2,889.0 1006.5,886.0 1009.5,883.7 1011.7,881.5 1015.5,880.3 1016.2,882.2 1019.2,883.7 1020.0,885.7 1017.0,888.2 1014.0,889.7"/>
<path d="M1009.5,884.5 1012.5,883.0 1014.7,884.5 1017.7,885.2"/>
<path d="M1008.0,887.5 1011.0,886.7 1014.0,887.5"/>
<path class="k" d="M245.3,643.1 250.0,644.9"/>
<path class="k" d="M241.3,661.7 244.9,664.7"/>
<path class="k" d="M235.3,669.7 240.7,671.3"/>
<path class="k" d="M227.3,703.6 232.7,704.9"/>
<path class="k" d="M223.1,712.0 226.0,708.0"/>
<path class="k" d="M218.3,706.7 221.3,702.7"/>
<path class="k" d="M210.0,697.3 213.3,693.3"/>
<path class="k" d="M180.0,667.3 183.3,664.7"/>
<path class="k" d="M188.0,681.3 190.7,680.0"/>
<path class="k" d="M288.7,604.0 291.3,607.3"/>
<path class="k" d="M268.7,612.0 271.3,615.3"/>
<path class="k" d="M256.7,620.7 258.7,622.7"/>
<path class="k" d="M170.0,598.7 173.3,596.0"/>
<path class="k" d="M170.0,617.3 174.0,616.7"/>
<path class="k" d="M174.7,627.3 176.0,630.0"/>
<path class="k" d="M175.3,636.0 182.0,640.0"/>
<path class="k" d="M172.7,646.0 180.0,644.0"/>
<path class="k" d="M596.5,682.5 603.0,684.0 609.0,683.5"/>
<path class="k" d="M594.5,695.0 601.0,695.5 608.0,694.0 611.0,694.5 615.0,693.8"/>
<path class="k" d="M611.0,697.0 611.5,694.5"/>
<path class="k" d="M614.0,690.5 614.5,693.5"/>
<path class="k" d="M604.5,674.5 608.5,673.8"/>
<path class="k" d="M614.0,671.0 619.5,669.0"/>
<path class="k" d="M620.0,663.5 623.5,667.5"/>
<path class="k" d="M596.0,706.0 597.0,709.0"/>
<path class="k" d="M598.0,704.0 600.5,702.0"/>
<path class="k" d="M604.0,709.0 606.5,706.5 611.0,704.8"/>
<path class="k" d="M607.5,710.0 608.5,707.0"/>
<path class="k" d="M597.5,715.0 601.0,714.0 605.0,715.0"/>
<path class="k" d="M598.0,717.0 601.5,716.0"/>
<path class="k" d="M602.0,722.0 606.5,719.0"/>
<path class="k" d="M603.0,723.0 603.5,727.0"/>
<path class="k" d="M601.5,727.5 606.5,727.5"/>
<path class="k" d="M637.0,716.0 638.0,720.0"/>
<path class="k" d="M630.5,725.5 632.0,727.0"/>
<path class="k" d="M608.0,739.0 610.0,740.5"/>
<path class="k" d="M621.5,653.0 624.5,652.0"/>
<path class="k" d="M622.0,656.0 623.0,659.5"/>
<path class="k" d="M627.0,655.5 628.0,657.5"/>
<path d="M617.5,658.0 619.0,657.2 620.0,658.5 618.8,659.5Z"/>
<path class="k" d="M502.8,679.4 505.6,677.5 510.0,676.2"/>
<path class="k" d="M505.6,676.9 507.5,680.0 508.1,684.4"/>
<path class="k" d="M506.5,687.5 508.1,690.2"/>
<path class="k" d="M507.5,676.2 510.0,678.8"/>
<path class="k" d="M552.5,699.8 550.6,702.5 550.0,705.6"/>
<path class="k" d="M546.9,708.1 549.4,706.2 550.0,710.0 549.0,711.9"/>
<path class="k" d="M548.5,713.1 549.0,714.4"/>
<path class="k" d="M535.0,722.5 538.1,724.0 540.6,722.5"/>
<path class="k" d="M533.8,726.2 536.2,725.6 537.2,728.1 535.6,730.6 534.0,728.8"/>
<path class="k" d="M502.2,746.9 504.4,747.5"/>
<path class="k" d="M502.8,750.6 503.5,753.1"/>
<path class="k" d="M501.9,755.6 502.8,756.2"/>
<path class="k" d="M511.2,750.0 513.8,752.5 515.6,753.8"/>
<path class="k" d="M508.8,760.0 510.0,760.6"/>
<path class="k" d="M513.1,758.8 518.1,759.4"/>
<path class="k" d="M511.2,763.8 514.4,764.4"/>
<path class="k" d="M510.0,771.9 513.1,770.0 515.0,767.8"/>
<path class="k" d="M513.1,773.1 510.6,774.0"/>
<path class="k" d="M516.2,776.9 518.1,772.5 519.4,768.8"/>
<path class="k" d="M520.0,767.5 523.1,766.9"/></g>
<g class="grid" shape-rendering="crispEdges"><line x1="258.50" y1="321.5" x2="258.50" y2="890.5"/><line x1="408.50" y1="321.5" x2="408.50" y2="890.5"/><line x1="559.50" y1="321.5" x2="559.50" y2="890.5"/><line x1="709.50" y1="321.5" x2="709.50" y2="890.5"/><line x1="860.50" y1="321.5" x2="860.50" y2="890.5"/><line x1="1010.50" y1="321.5" x2="1010.50" y2="890.5"/><line x1="169.5" y1="844.50" x2="1061.5" y2="844.50"/><line x1="169.5" y1="782.50" x2="1061.5" y2="782.50"/><line x1="169.5" y1="712.50" x2="1061.5" y2="712.50"/><line x1="169.5" y1="631.50" x2="1061.5" y2="631.50"/><line x1="169.5" y1="532.50" x2="1061.5" y2="532.50"/><line x1="169.5" y1="406.50" x2="1061.5" y2="406.50"/></g>
<g id="volcano" stroke="#000" fill="none" stroke-linecap="butt">
<path d="M395,638.4H401.1M406.1,638.4H412.8" stroke-width="2.6"/>
<path d="M395.6,638.6L399,627M412.2,638.6L408.9,627" stroke-width="1.4"/>
<path d="M398.2,627H409.6" stroke-width="1.9"/>
<path d="M399,627L396.2,619.2M408.9,627L411,620.1" stroke-width="2.2"/>
<path d="M403.5,619.6V627" stroke-width="1.7"/>
</g>
</g>
<rect x="169.5" y="321.5" width="892.00" height="569.00" fill="none" stroke="#000" stroke-width="1.11"/>
<g id="lonlabels"><text x="257.90" y="310.3" class="s14" text-anchor="middle">40°W</text><text x="257.90" y="912.3" class="s14" text-anchor="middle">40°W</text><text x="407.90" y="310.3" class="s14" text-anchor="middle">20°W</text><text x="407.90" y="912.3" class="s14" text-anchor="middle">20°W</text><text x="558.90" y="310.3" class="s14" text-anchor="middle">0°</text><text x="558.90" y="912.3" class="s14" text-anchor="middle">0°</text><text x="708.90" y="310.3" class="s14" text-anchor="middle">20°E</text><text x="708.90" y="912.3" class="s14" text-anchor="middle">20°E</text><text x="859.90" y="310.3" class="s14" text-anchor="middle">40°E</text><text x="859.90" y="912.3" class="s14" text-anchor="middle">40°E</text><text x="1009.90" y="310.3" class="s14" text-anchor="middle">60°E</text><text x="1009.90" y="912.3" class="s14" text-anchor="middle">60°E</text></g>
<g id="latlabels"><text x="161.6" y="849.70" class="s14" text-anchor="end" letter-spacing="-0.4">50°N</text><text x="1067.6" y="849.70" class="s14" letter-spacing="-0.4">50°N</text><text x="161.6" y="787.70" class="s14" text-anchor="end" letter-spacing="-0.4">55°N</text><text x="1067.6" y="787.70" class="s14" letter-spacing="-0.4">55°N</text><text x="161.6" y="717.70" class="s14" text-anchor="end" letter-spacing="-0.4">60°N</text><text x="1067.6" y="717.70" class="s14" letter-spacing="-0.4">60°N</text><text x="161.6" y="636.70" class="s14" text-anchor="end" letter-spacing="-0.4">65°N</text><text x="1067.6" y="636.70" class="s14" letter-spacing="-0.4">65°N</text><text x="161.6" y="537.70" class="s14" text-anchor="end" letter-spacing="-0.4">70°N</text><text x="1067.6" y="537.70" class="s14" letter-spacing="-0.4">70°N</text><text x="161.6" y="411.70" class="s14" text-anchor="end" letter-spacing="-0.4">75°N</text><text x="1067.6" y="411.70" class="s14" letter-spacing="-0.4">75°N</text></g>
<text x="60.5" y="975" class="s10">© Met Office Crown Copyright</text>
</svg>
</body>
</html>
